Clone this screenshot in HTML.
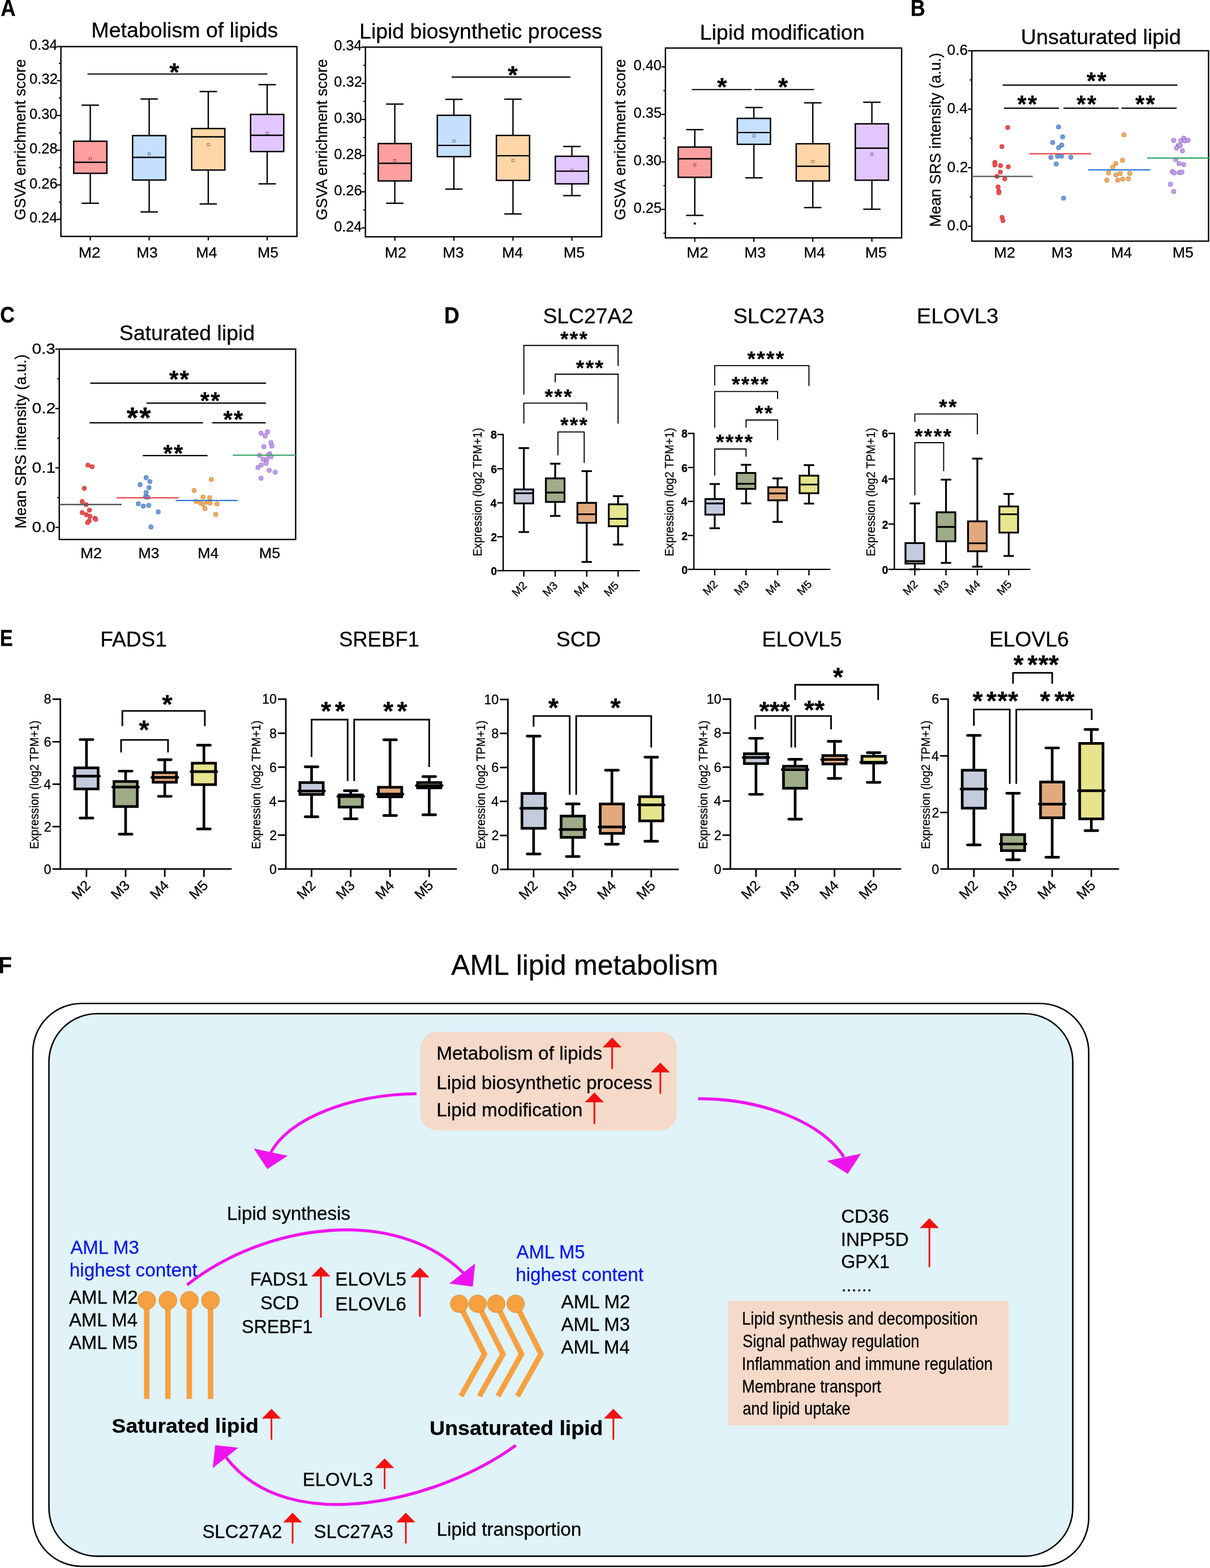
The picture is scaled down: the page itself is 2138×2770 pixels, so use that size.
<!DOCTYPE html>
<html lang="en"><head><meta charset="utf-8"><title>AML lipid metabolism figure</title>
<style>
html,body{margin:0;padding:0;background:#fff}
body{width:2138px;height:2770px;overflow:hidden}
svg{display:block;font-family:"Liberation Sans",sans-serif;fill:#000}
svg text{white-space:pre;stroke:#000;stroke-width:.3px;stroke-linejoin:round}
</style></head><body>
<svg width="2138" height="2770" viewBox="0 0 2138 2770">
<rect width="2138" height="2770" fill="#fff"/>
<g id="fig">
<text x="1.29" y="27.9" font-size="40" font-weight="bold" textLength="26.41" lengthAdjust="spacingAndGlyphs">A</text>
<text x="161.34" y="66.3" font-size="36.5" textLength="330.06" lengthAdjust="spacingAndGlyphs">Metabolism of lipids</text>
<text transform="translate(44.5,388.89) rotate(-90)" font-size="28.5" textLength="284.46" lengthAdjust="spacingAndGlyphs">GSVA enrichment score</text>
<line x1="100.62" y1="82.31" x2="107.62" y2="82.31" stroke="#000" stroke-width="2.2"/>
<text x="52.06" y="88.21" font-size="26.3" textLength="49.31" lengthAdjust="spacingAndGlyphs">0.34</text>
<line x1="100.62" y1="142.53" x2="107.62" y2="142.53" stroke="#000" stroke-width="2.2"/>
<text x="52.05" y="148.43" font-size="26.3" textLength="49.84" lengthAdjust="spacingAndGlyphs">0.32</text>
<line x1="100.62" y1="204.02" x2="107.62" y2="204.02" stroke="#000" stroke-width="2.2"/>
<text x="52.05" y="209.92" font-size="26.3" textLength="49.44" lengthAdjust="spacingAndGlyphs">0.30</text>
<line x1="100.62" y1="265.52" x2="107.62" y2="265.52" stroke="#000" stroke-width="2.2"/>
<text x="52.05" y="271.42" font-size="26.3" textLength="49.57" lengthAdjust="spacingAndGlyphs">0.28</text>
<line x1="100.62" y1="326.69" x2="107.62" y2="326.69" stroke="#000" stroke-width="2.2"/>
<text x="52.05" y="332.59" font-size="26.3" textLength="49.57" lengthAdjust="spacingAndGlyphs">0.26</text>
<line x1="100.62" y1="387.54" x2="107.62" y2="387.54" stroke="#000" stroke-width="2.2"/>
<text x="52.06" y="393.44" font-size="26.3" textLength="49.31" lengthAdjust="spacingAndGlyphs">0.24</text>
<line x1="104.12" y1="112.1" x2="107.62" y2="112.1" stroke="#000" stroke-width="2.2"/>
<line x1="104.12" y1="173.27" x2="107.62" y2="173.27" stroke="#000" stroke-width="2.2"/>
<line x1="104.12" y1="234.77" x2="107.62" y2="234.77" stroke="#000" stroke-width="2.2"/>
<line x1="104.12" y1="296.26" x2="107.62" y2="296.26" stroke="#000" stroke-width="2.2"/>
<line x1="104.12" y1="357.12" x2="107.62" y2="357.12" stroke="#000" stroke-width="2.2"/>
<line x1="159.5" y1="185.77" x2="159.5" y2="359.04" stroke="#000" stroke-width="2.4"/>
<line x1="144.13" y1="185.77" x2="174.88" y2="185.77" stroke="#000" stroke-width="2.4"/>
<line x1="144.13" y1="359.04" x2="174.88" y2="359.04" stroke="#000" stroke-width="2.4"/>
<rect x="130.2" y="249.5" width="58.61" height="56.69" fill="#FF9F9F" stroke="#000" stroke-width="2.45"/>
<line x1="130.2" y1="286.65" x2="188.81" y2="286.65" stroke="#000" stroke-width="2.45"/>
<rect x="157.4" y="278.15" width="4.2" height="4.2" fill="none" stroke="#7a2020" stroke-width="0.7"/>
<line x1="263.59" y1="174.88" x2="263.59" y2="374.41" stroke="#000" stroke-width="2.4"/>
<line x1="248.22" y1="174.88" x2="278.97" y2="174.88" stroke="#000" stroke-width="2.4"/>
<line x1="248.22" y1="374.41" x2="278.97" y2="374.41" stroke="#000" stroke-width="2.4"/>
<rect x="234.29" y="239.57" width="58.61" height="78.47" fill="#C5E0FF" stroke="#000" stroke-width="2.45"/>
<line x1="234.29" y1="278.01" x2="292.9" y2="278.01" stroke="#000" stroke-width="2.45"/>
<rect x="261.49" y="269.82" width="4.2" height="4.2" fill="none" stroke="#1f3f70" stroke-width="0.7"/>
<line x1="368.01" y1="161.74" x2="368.01" y2="360.32" stroke="#000" stroke-width="2.4"/>
<line x1="352.63" y1="161.74" x2="383.38" y2="161.74" stroke="#000" stroke-width="2.4"/>
<line x1="352.63" y1="360.32" x2="383.38" y2="360.32" stroke="#000" stroke-width="2.4"/>
<rect x="338.7" y="227.08" width="58.61" height="73.35" fill="#FFD6A8" stroke="#000" stroke-width="2.45"/>
<line x1="338.7" y1="241.81" x2="397.31" y2="241.81" stroke="#000" stroke-width="2.45"/>
<rect x="365.91" y="253.49" width="4.2" height="4.2" fill="none" stroke="#6a4010" stroke-width="0.7"/>
<line x1="472.1" y1="149.57" x2="472.1" y2="324.77" stroke="#000" stroke-width="2.4"/>
<line x1="456.73" y1="149.57" x2="487.47" y2="149.57" stroke="#000" stroke-width="2.4"/>
<line x1="456.73" y1="324.77" x2="487.47" y2="324.77" stroke="#000" stroke-width="2.4"/>
<rect x="442.79" y="202.1" width="58.61" height="65.66" fill="#E2C6FF" stroke="#000" stroke-width="2.45"/>
<line x1="442.79" y1="238.93" x2="501.41" y2="238.93" stroke="#000" stroke-width="2.45"/>
<rect x="470" y="233.31" width="4.2" height="4.2" fill="none" stroke="#4a2a70" stroke-width="0.7"/>
<line x1="159.5" y1="417.65" x2="159.5" y2="424.65" stroke="#000" stroke-width="2.2"/>
<line x1="263.59" y1="417.65" x2="263.59" y2="424.65" stroke="#000" stroke-width="2.2"/>
<line x1="368.01" y1="417.65" x2="368.01" y2="424.65" stroke="#000" stroke-width="2.2"/>
<line x1="472.1" y1="417.65" x2="472.1" y2="424.65" stroke="#000" stroke-width="2.2"/>
<rect x="107.62" y="82.31" width="417.01" height="335.34" fill="none" stroke="#000" stroke-width="2.4"/>
<line x1="154.7" y1="130.68" x2="472.74" y2="130.68" stroke="#000" stroke-width="2.1"/>
<text x="299.34" y="142.83" font-size="45" font-weight="bold">*</text>
<text x="138.73" y="454.8" font-size="26" textLength="38.8" lengthAdjust="spacingAndGlyphs">M2</text>
<text x="241.3" y="454.8" font-size="26" textLength="37.44" lengthAdjust="spacingAndGlyphs">M3</text>
<text x="346.37" y="454.8" font-size="26" textLength="37.15" lengthAdjust="spacingAndGlyphs">M4</text>
<text x="454.95" y="454.8" font-size="26" textLength="37.09" lengthAdjust="spacingAndGlyphs">M5</text>
<text x="635.05" y="68.22" font-size="36.5" textLength="428.99" lengthAdjust="spacingAndGlyphs">Lipid biosynthetic process</text>
<text transform="translate(578.1,388.89) rotate(-90)" font-size="28.5" textLength="284.46" lengthAdjust="spacingAndGlyphs">GSVA enrichment score</text>
<line x1="638.69" y1="83.27" x2="645.69" y2="83.27" stroke="#000" stroke-width="2.2"/>
<text x="590.13" y="89.17" font-size="26.3" textLength="49.31" lengthAdjust="spacingAndGlyphs">0.34</text>
<line x1="638.69" y1="147.33" x2="645.69" y2="147.33" stroke="#000" stroke-width="2.2"/>
<text x="590.12" y="153.23" font-size="26.3" textLength="49.84" lengthAdjust="spacingAndGlyphs">0.32</text>
<line x1="638.69" y1="211.07" x2="645.69" y2="211.07" stroke="#000" stroke-width="2.2"/>
<text x="590.13" y="216.97" font-size="26.3" textLength="49.44" lengthAdjust="spacingAndGlyphs">0.30</text>
<line x1="638.69" y1="274.8" x2="645.69" y2="274.8" stroke="#000" stroke-width="2.2"/>
<text x="590.13" y="280.7" font-size="26.3" textLength="49.57" lengthAdjust="spacingAndGlyphs">0.28</text>
<line x1="638.69" y1="338.86" x2="645.69" y2="338.86" stroke="#000" stroke-width="2.2"/>
<text x="590.13" y="344.76" font-size="26.3" textLength="49.57" lengthAdjust="spacingAndGlyphs">0.26</text>
<line x1="638.69" y1="402.6" x2="645.69" y2="402.6" stroke="#000" stroke-width="2.2"/>
<text x="590.13" y="408.5" font-size="26.3" textLength="49.31" lengthAdjust="spacingAndGlyphs">0.24</text>
<line x1="642.19" y1="115.3" x2="645.69" y2="115.3" stroke="#000" stroke-width="2.2"/>
<line x1="642.19" y1="179.04" x2="645.69" y2="179.04" stroke="#000" stroke-width="2.2"/>
<line x1="642.19" y1="243.1" x2="645.69" y2="243.1" stroke="#000" stroke-width="2.2"/>
<line x1="642.19" y1="306.83" x2="645.69" y2="306.83" stroke="#000" stroke-width="2.2"/>
<line x1="642.19" y1="370.89" x2="645.69" y2="370.89" stroke="#000" stroke-width="2.2"/>
<line x1="697.58" y1="183.84" x2="697.58" y2="359.04" stroke="#000" stroke-width="2.4"/>
<line x1="682.21" y1="183.84" x2="712.95" y2="183.84" stroke="#000" stroke-width="2.4"/>
<line x1="682.21" y1="359.04" x2="712.95" y2="359.04" stroke="#000" stroke-width="2.4"/>
<rect x="668.27" y="253.67" width="58.61" height="65.98" fill="#FF9F9F" stroke="#000" stroke-width="2.45"/>
<line x1="668.27" y1="288.58" x2="726.89" y2="288.58" stroke="#000" stroke-width="2.45"/>
<rect x="695.48" y="281.35" width="4.2" height="4.2" fill="none" stroke="#7a2020" stroke-width="0.7"/>
<line x1="801.99" y1="175.52" x2="801.99" y2="334.06" stroke="#000" stroke-width="2.4"/>
<line x1="786.62" y1="175.52" x2="817.37" y2="175.52" stroke="#000" stroke-width="2.4"/>
<line x1="786.62" y1="334.06" x2="817.37" y2="334.06" stroke="#000" stroke-width="2.4"/>
<rect x="772.69" y="203.7" width="58.61" height="73.02" fill="#C5E0FF" stroke="#000" stroke-width="2.45"/>
<line x1="772.69" y1="256.87" x2="831.3" y2="256.87" stroke="#000" stroke-width="2.45"/>
<rect x="799.89" y="247.08" width="4.2" height="4.2" fill="none" stroke="#1f3f70" stroke-width="0.7"/>
<line x1="906.41" y1="175.2" x2="906.41" y2="377.94" stroke="#000" stroke-width="2.4"/>
<line x1="891.03" y1="175.2" x2="921.78" y2="175.2" stroke="#000" stroke-width="2.4"/>
<line x1="891.03" y1="377.94" x2="921.78" y2="377.94" stroke="#000" stroke-width="2.4"/>
<rect x="877.1" y="239.25" width="58.61" height="79.43" fill="#FFD6A8" stroke="#000" stroke-width="2.45"/>
<line x1="877.1" y1="275.12" x2="935.71" y2="275.12" stroke="#000" stroke-width="2.45"/>
<rect x="904.31" y="281.35" width="4.2" height="4.2" fill="none" stroke="#6a4010" stroke-width="0.7"/>
<line x1="1010.5" y1="258.79" x2="1010.5" y2="345.59" stroke="#000" stroke-width="2.4"/>
<line x1="995.12" y1="258.79" x2="1025.87" y2="258.79" stroke="#000" stroke-width="2.4"/>
<line x1="995.12" y1="345.59" x2="1025.87" y2="345.59" stroke="#000" stroke-width="2.4"/>
<rect x="981.19" y="276.09" width="58.61" height="48.68" fill="#E2C6FF" stroke="#000" stroke-width="2.45"/>
<line x1="981.19" y1="302.35" x2="1039.8" y2="302.35" stroke="#000" stroke-width="2.45"/>
<rect x="1008.4" y="298.97" width="4.2" height="4.2" fill="none" stroke="#4a2a70" stroke-width="0.7"/>
<line x1="697.58" y1="418.29" x2="697.58" y2="425.29" stroke="#000" stroke-width="2.2"/>
<line x1="801.99" y1="418.29" x2="801.99" y2="425.29" stroke="#000" stroke-width="2.2"/>
<line x1="906.41" y1="418.29" x2="906.41" y2="425.29" stroke="#000" stroke-width="2.2"/>
<line x1="1010.5" y1="418.29" x2="1010.5" y2="425.29" stroke="#000" stroke-width="2.2"/>
<rect x="645.69" y="83.27" width="417.33" height="335.02" fill="none" stroke="#000" stroke-width="2.4"/>
<line x1="798.15" y1="136.12" x2="1007.94" y2="136.12" stroke="#000" stroke-width="2.1"/>
<text x="897.31" y="148.28" font-size="45" font-weight="bold">*</text>
<text x="679.71" y="454.8" font-size="26" textLength="38.45" lengthAdjust="spacingAndGlyphs">M2</text>
<text x="782.26" y="454.8" font-size="26" textLength="37.44" lengthAdjust="spacingAndGlyphs">M3</text>
<text x="887.01" y="454.8" font-size="26" textLength="37.15" lengthAdjust="spacingAndGlyphs">M4</text>
<text x="995.89" y="454.8" font-size="26" textLength="37.44" lengthAdjust="spacingAndGlyphs">M5</text>
<text x="1236.53" y="69.5" font-size="36.5" textLength="291.18" lengthAdjust="spacingAndGlyphs">Lipid modification</text>
<text transform="translate(1105.28,388.89) rotate(-90)" font-size="28.5" textLength="284.46" lengthAdjust="spacingAndGlyphs">GSVA enrichment score</text>
<line x1="1168.77" y1="118.19" x2="1175.77" y2="118.19" stroke="#000" stroke-width="2.2"/>
<text x="1119.56" y="124.09" font-size="26.3" textLength="49.44" lengthAdjust="spacingAndGlyphs">0.40</text>
<line x1="1168.77" y1="202.1" x2="1175.77" y2="202.1" stroke="#000" stroke-width="2.2"/>
<text x="1119.56" y="208" font-size="26.3" textLength="49.57" lengthAdjust="spacingAndGlyphs">0.35</text>
<line x1="1168.77" y1="286.01" x2="1175.77" y2="286.01" stroke="#000" stroke-width="2.2"/>
<text x="1119.56" y="291.91" font-size="26.3" textLength="49.44" lengthAdjust="spacingAndGlyphs">0.30</text>
<line x1="1168.77" y1="369.93" x2="1175.77" y2="369.93" stroke="#000" stroke-width="2.2"/>
<text x="1119.56" y="375.83" font-size="26.3" textLength="49.57" lengthAdjust="spacingAndGlyphs">0.25</text>
<line x1="1172.27" y1="160.14" x2="1175.77" y2="160.14" stroke="#000" stroke-width="2.2"/>
<line x1="1172.27" y1="244.06" x2="1175.77" y2="244.06" stroke="#000" stroke-width="2.2"/>
<line x1="1172.27" y1="327.97" x2="1175.77" y2="327.97" stroke="#000" stroke-width="2.2"/>
<line x1="1172.27" y1="411.89" x2="1175.77" y2="411.89" stroke="#000" stroke-width="2.2"/>
<line x1="1227.65" y1="229" x2="1227.65" y2="380.5" stroke="#000" stroke-width="2.4"/>
<line x1="1212.28" y1="229" x2="1243.02" y2="229" stroke="#000" stroke-width="2.4"/>
<line x1="1212.28" y1="380.5" x2="1243.02" y2="380.5" stroke="#000" stroke-width="2.4"/>
<rect x="1198.35" y="259.75" width="58.61" height="53.49" fill="#FF9F9F" stroke="#000" stroke-width="2.45"/>
<line x1="1198.35" y1="280.57" x2="1256.96" y2="280.57" stroke="#000" stroke-width="2.45"/>
<rect x="1225.55" y="289.36" width="4.2" height="4.2" fill="none" stroke="#7a2020" stroke-width="0.7"/>
<line x1="1332.06" y1="189.93" x2="1332.06" y2="314.2" stroke="#000" stroke-width="2.4"/>
<line x1="1316.69" y1="189.93" x2="1347.44" y2="189.93" stroke="#000" stroke-width="2.4"/>
<line x1="1316.69" y1="314.2" x2="1347.44" y2="314.2" stroke="#000" stroke-width="2.4"/>
<rect x="1302.76" y="209.15" width="58.61" height="45.8" fill="#C5E0FF" stroke="#000" stroke-width="2.45"/>
<line x1="1302.76" y1="234.13" x2="1361.37" y2="234.13" stroke="#000" stroke-width="2.45"/>
<rect x="1329.96" y="237.79" width="4.2" height="4.2" fill="none" stroke="#1f3f70" stroke-width="0.7"/>
<line x1="1436.16" y1="181.6" x2="1436.16" y2="366.73" stroke="#000" stroke-width="2.4"/>
<line x1="1420.78" y1="181.6" x2="1451.53" y2="181.6" stroke="#000" stroke-width="2.4"/>
<line x1="1420.78" y1="366.73" x2="1451.53" y2="366.73" stroke="#000" stroke-width="2.4"/>
<rect x="1406.85" y="253.99" width="58.61" height="65.66" fill="#FFD6A8" stroke="#000" stroke-width="2.45"/>
<line x1="1406.85" y1="293.7" x2="1465.46" y2="293.7" stroke="#000" stroke-width="2.45"/>
<rect x="1434.06" y="283.27" width="4.2" height="4.2" fill="none" stroke="#6a4010" stroke-width="0.7"/>
<line x1="1540.57" y1="180.64" x2="1540.57" y2="369.61" stroke="#000" stroke-width="2.4"/>
<line x1="1525.2" y1="180.64" x2="1555.94" y2="180.64" stroke="#000" stroke-width="2.4"/>
<line x1="1525.2" y1="369.61" x2="1555.94" y2="369.61" stroke="#000" stroke-width="2.4"/>
<rect x="1511.26" y="218.75" width="58.61" height="99.61" fill="#E2C6FF" stroke="#000" stroke-width="2.45"/>
<line x1="1511.26" y1="261.67" x2="1569.88" y2="261.67" stroke="#000" stroke-width="2.45"/>
<rect x="1538.47" y="270.46" width="4.2" height="4.2" fill="none" stroke="#4a2a70" stroke-width="0.7"/>
<path d="M1227.65,392.31L1230.25,394.91L1227.65,397.51L1225.05,394.91Z" stroke="none" stroke-width="0" fill="#000"/>
<line x1="1227.65" y1="420.21" x2="1227.65" y2="427.21" stroke="#000" stroke-width="2.2"/>
<line x1="1332.06" y1="420.21" x2="1332.06" y2="427.21" stroke="#000" stroke-width="2.2"/>
<line x1="1436.16" y1="420.21" x2="1436.16" y2="427.21" stroke="#000" stroke-width="2.2"/>
<line x1="1540.57" y1="420.21" x2="1540.57" y2="427.21" stroke="#000" stroke-width="2.2"/>
<rect x="1175.77" y="84.88" width="417.33" height="335.34" fill="none" stroke="#000" stroke-width="2.4"/>
<line x1="1222.21" y1="158.22" x2="1328.22" y2="158.22" stroke="#000" stroke-width="2.1"/>
<text x="1266.92" y="169.42" font-size="45" font-weight="bold">*</text>
<line x1="1333.02" y1="158.22" x2="1438.4" y2="158.22" stroke="#000" stroke-width="2.1"/>
<text x="1374.85" y="169.42" font-size="45" font-weight="bold">*</text>
<text x="1213.31" y="454.8" font-size="26" textLength="38.45" lengthAdjust="spacingAndGlyphs">M2</text>
<text x="1315.17" y="454.8" font-size="26" textLength="38.14" lengthAdjust="spacingAndGlyphs">M3</text>
<text x="1420.24" y="454.8" font-size="26" textLength="37.85" lengthAdjust="spacingAndGlyphs">M4</text>
<text x="1528.8" y="454.8" font-size="26" textLength="38.14" lengthAdjust="spacingAndGlyphs">M5</text>
<text x="1608.82" y="28.19" font-size="40" font-weight="bold" textLength="26.12" lengthAdjust="spacingAndGlyphs">B</text>
<text x="1803.72" y="77.83" font-size="36.5" textLength="282.9" lengthAdjust="spacingAndGlyphs">Unsaturated lipid</text>
<text transform="translate(1662.06,400.91) rotate(-90)" font-size="27">Mean SRS intensity (a.u.)</text>
<line x1="1710.15" y1="89.68" x2="1717.15" y2="89.68" stroke="#000" stroke-width="2.2"/>
<text x="1673.59" y="97.18" font-size="26.3">0.6</text>
<line x1="1710.15" y1="192.81" x2="1717.15" y2="192.81" stroke="#000" stroke-width="2.2"/>
<text x="1673.59" y="200.31" font-size="26.3" textLength="36.33" lengthAdjust="spacingAndGlyphs">0.4</text>
<line x1="1710.15" y1="296.26" x2="1717.15" y2="296.26" stroke="#000" stroke-width="2.2"/>
<text x="1673.58" y="303.76" font-size="26.3" textLength="36.89" lengthAdjust="spacingAndGlyphs">0.2</text>
<line x1="1710.15" y1="399.72" x2="1717.15" y2="399.72" stroke="#000" stroke-width="2.2"/>
<text x="1673.59" y="407.22" font-size="26.3">0.0</text>
<line x1="1713.65" y1="141.25" x2="1717.15" y2="141.25" stroke="#000" stroke-width="2.2"/>
<line x1="1713.65" y1="244.38" x2="1717.15" y2="244.38" stroke="#000" stroke-width="2.2"/>
<line x1="1713.65" y1="347.83" x2="1717.15" y2="347.83" stroke="#000" stroke-width="2.2"/>
<rect x="1717.15" y="89.68" width="418.29" height="336.3" fill="none" stroke="#000" stroke-width="2.4"/>
<circle cx="1780.56" cy="225.16" r="4" fill="#F0504E" stroke="#8a1c1c" stroke-width="0.5"/>
<circle cx="1770.31" cy="259.11" r="4" fill="#F0504E" stroke="#8a1c1c" stroke-width="0.5"/>
<circle cx="1757.82" cy="286.65" r="4" fill="#F0504E" stroke="#8a1c1c" stroke-width="0.5"/>
<circle cx="1757.82" cy="291.46" r="4" fill="#F0504E" stroke="#8a1c1c" stroke-width="0.5"/>
<circle cx="1767.75" cy="292.42" r="4" fill="#F0504E" stroke="#8a1c1c" stroke-width="0.5"/>
<circle cx="1781.52" cy="294.66" r="4" fill="#F0504E" stroke="#8a1c1c" stroke-width="0.5"/>
<circle cx="1767.43" cy="303.95" r="4" fill="#F0504E" stroke="#8a1c1c" stroke-width="0.5"/>
<circle cx="1761.67" cy="311.64" r="4" fill="#F0504E" stroke="#8a1c1c" stroke-width="0.5"/>
<circle cx="1775.44" cy="316.12" r="4" fill="#F0504E" stroke="#8a1c1c" stroke-width="0.5"/>
<circle cx="1763.59" cy="330.21" r="4" fill="#F0504E" stroke="#8a1c1c" stroke-width="0.5"/>
<circle cx="1764.87" cy="337.9" r="4" fill="#F0504E" stroke="#8a1c1c" stroke-width="0.5"/>
<circle cx="1764.87" cy="340.46" r="4" fill="#F0504E" stroke="#8a1c1c" stroke-width="0.5"/>
<circle cx="1770.63" cy="384.02" r="4" fill="#F0504E" stroke="#8a1c1c" stroke-width="0.5"/>
<circle cx="1772.23" cy="389.79" r="4" fill="#F0504E" stroke="#8a1c1c" stroke-width="0.5"/>
<circle cx="1870.24" cy="224.2" r="4" fill="#6C9FE0" stroke="#1f3f75" stroke-width="0.5"/>
<circle cx="1877.61" cy="241.81" r="4" fill="#6C9FE0" stroke="#1f3f75" stroke-width="0.5"/>
<circle cx="1859.99" cy="251.74" r="4" fill="#6C9FE0" stroke="#1f3f75" stroke-width="0.5"/>
<circle cx="1876.01" cy="256.23" r="4" fill="#6C9FE0" stroke="#1f3f75" stroke-width="0.5"/>
<circle cx="1870.56" cy="260.71" r="4" fill="#6C9FE0" stroke="#1f3f75" stroke-width="0.5"/>
<circle cx="1856.79" cy="278.01" r="4" fill="#6C9FE0" stroke="#1f3f75" stroke-width="0.5"/>
<circle cx="1868.64" cy="276.09" r="4" fill="#6C9FE0" stroke="#1f3f75" stroke-width="0.5"/>
<circle cx="1875.69" cy="276.09" r="4" fill="#6C9FE0" stroke="#1f3f75" stroke-width="0.5"/>
<circle cx="1892.02" cy="277.69" r="4" fill="#6C9FE0" stroke="#1f3f75" stroke-width="0.5"/>
<circle cx="1866.4" cy="289.86" r="4" fill="#6C9FE0" stroke="#1f3f75" stroke-width="0.5"/>
<circle cx="1879.21" cy="350.07" r="4" fill="#6C9FE0" stroke="#1f3f75" stroke-width="0.5"/>
<circle cx="1985.86" cy="238.29" r="4" fill="#F8AE5E" stroke="#8a5a1c" stroke-width="0.5"/>
<circle cx="1983.3" cy="283.13" r="4" fill="#F8AE5E" stroke="#8a5a1c" stroke-width="0.5"/>
<circle cx="1971.45" cy="288.9" r="4" fill="#F8AE5E" stroke="#8a5a1c" stroke-width="0.5"/>
<circle cx="1966.33" cy="295.3" r="4" fill="#F8AE5E" stroke="#8a5a1c" stroke-width="0.5"/>
<circle cx="1958.64" cy="305.55" r="4" fill="#F8AE5E" stroke="#8a5a1c" stroke-width="0.5"/>
<circle cx="1971.77" cy="309.07" r="4" fill="#F8AE5E" stroke="#8a5a1c" stroke-width="0.5"/>
<circle cx="1979.46" cy="306.51" r="4" fill="#F8AE5E" stroke="#8a5a1c" stroke-width="0.5"/>
<circle cx="1996.11" cy="306.19" r="4" fill="#F8AE5E" stroke="#8a5a1c" stroke-width="0.5"/>
<circle cx="1955.76" cy="318.36" r="4" fill="#F8AE5E" stroke="#8a5a1c" stroke-width="0.5"/>
<circle cx="1974.98" cy="318.36" r="4" fill="#F8AE5E" stroke="#8a5a1c" stroke-width="0.5"/>
<circle cx="1983.62" cy="316.44" r="4" fill="#F8AE5E" stroke="#8a5a1c" stroke-width="0.5"/>
<circle cx="1993.87" cy="315.8" r="4" fill="#F8AE5E" stroke="#8a5a1c" stroke-width="0.5"/>
<circle cx="2073.94" cy="247.9" r="4" fill="#C79CF0" stroke="#5a3a8a" stroke-width="0.5"/>
<circle cx="2091.56" cy="244.06" r="4" fill="#C79CF0" stroke="#5a3a8a" stroke-width="0.5"/>
<circle cx="2086.43" cy="248.86" r="4" fill="#C79CF0" stroke="#5a3a8a" stroke-width="0.5"/>
<circle cx="2093.48" cy="248.86" r="4" fill="#C79CF0" stroke="#5a3a8a" stroke-width="0.5"/>
<circle cx="2099.25" cy="247.9" r="4" fill="#C79CF0" stroke="#5a3a8a" stroke-width="0.5"/>
<circle cx="2081.63" cy="257.19" r="4" fill="#C79CF0" stroke="#5a3a8a" stroke-width="0.5"/>
<circle cx="2085.15" cy="257.19" r="4" fill="#C79CF0" stroke="#5a3a8a" stroke-width="0.5"/>
<circle cx="2078.75" cy="261.67" r="4" fill="#C79CF0" stroke="#5a3a8a" stroke-width="0.5"/>
<circle cx="2089.32" cy="266.48" r="4" fill="#C79CF0" stroke="#5a3a8a" stroke-width="0.5"/>
<circle cx="2077.47" cy="281.85" r="4" fill="#C79CF0" stroke="#5a3a8a" stroke-width="0.5"/>
<circle cx="2083.23" cy="288.9" r="4" fill="#C79CF0" stroke="#5a3a8a" stroke-width="0.5"/>
<circle cx="2091.56" cy="290.82" r="4" fill="#C79CF0" stroke="#5a3a8a" stroke-width="0.5"/>
<circle cx="2071.38" cy="302.99" r="4" fill="#C79CF0" stroke="#5a3a8a" stroke-width="0.5"/>
<circle cx="2074.58" cy="305.55" r="4" fill="#C79CF0" stroke="#5a3a8a" stroke-width="0.5"/>
<circle cx="2083.55" cy="304.91" r="4" fill="#C79CF0" stroke="#5a3a8a" stroke-width="0.5"/>
<circle cx="2088.36" cy="304.27" r="4" fill="#C79CF0" stroke="#5a3a8a" stroke-width="0.5"/>
<circle cx="2068.18" cy="325.41" r="4" fill="#C79CF0" stroke="#5a3a8a" stroke-width="0.5"/>
<circle cx="2073.94" cy="338.22" r="4" fill="#C79CF0" stroke="#5a3a8a" stroke-width="0.5"/>
<line x1="1717.15" y1="311.64" x2="1824.76" y2="311.64" stroke="#555555" stroke-width="2.4"/>
<line x1="1818.36" y1="271.6" x2="1927.89" y2="271.6" stroke="#E2414B" stroke-width="2.4"/>
<line x1="1922.77" y1="300.11" x2="2032.63" y2="300.11" stroke="#2B78D8" stroke-width="2.4"/>
<line x1="2027.18" y1="279.29" x2="2138" y2="279.29" stroke="#3DAA6E" stroke-width="2.4"/>
<line x1="1771.59" y1="150.39" x2="2080.35" y2="150.39" stroke="#000" stroke-width="2.3"/>
<text x="1920.06 1938.56" y="157.43" font-size="42" font-weight="bold">**</text>
<line x1="1773.84" y1="191.07" x2="1871.2" y2="191.07" stroke="#000" stroke-width="2.3"/>
<text x="1797.39 1815.89" y="198.11" font-size="42" font-weight="bold">**</text>
<line x1="1879.21" y1="191.07" x2="1976.58" y2="191.07" stroke="#000" stroke-width="2.3"/>
<text x="1902.13 1920.63" y="198.11" font-size="42" font-weight="bold">**</text>
<line x1="1981.7" y1="191.07" x2="2079.07" y2="191.07" stroke="#000" stroke-width="2.3"/>
<text x="2005.9 2024.4" y="198.11" font-size="42" font-weight="bold">**</text>
<text x="1755.99" y="455.44" font-size="26" textLength="38.09" lengthAdjust="spacingAndGlyphs">M2</text>
<text x="1857.88" y="455.44" font-size="26" textLength="37.44" lengthAdjust="spacingAndGlyphs">M3</text>
<text x="1962.95" y="455.44" font-size="26" textLength="37.15" lengthAdjust="spacingAndGlyphs">M4</text>
<text x="2071.85" y="455.44" font-size="26" textLength="37.09" lengthAdjust="spacingAndGlyphs">M5</text>
<text x="0.22" y="570.28" font-size="40" font-weight="bold" textLength="25.74" lengthAdjust="spacingAndGlyphs">C</text>
<text x="210.7" y="600.71" font-size="36.5" textLength="239.61" lengthAdjust="spacingAndGlyphs">Saturated lipid</text>
<text transform="translate(45.8,933.72) rotate(-90)" font-size="27">Mean SRS intensity (a.u.)</text>
<line x1="97.73" y1="616.73" x2="104.73" y2="616.73" stroke="#000" stroke-width="2.2"/>
<text x="56.54" y="625.43" font-size="26.3" textLength="41.39" lengthAdjust="spacingAndGlyphs">0.3</text>
<line x1="97.73" y1="721.78" x2="104.73" y2="721.78" stroke="#000" stroke-width="2.2"/>
<text x="56.53" y="730.48" font-size="26.3" textLength="41.7" lengthAdjust="spacingAndGlyphs">0.2</text>
<line x1="97.73" y1="826.51" x2="104.73" y2="826.51" stroke="#000" stroke-width="2.2"/>
<text x="56.53" y="835.21" font-size="26.3" textLength="41.54" lengthAdjust="spacingAndGlyphs">0.1</text>
<line x1="97.73" y1="931.57" x2="104.73" y2="931.57" stroke="#000" stroke-width="2.2"/>
<text x="56.54" y="940.27" font-size="26.3" textLength="41.23" lengthAdjust="spacingAndGlyphs">0.0</text>
<line x1="101.23" y1="669.25" x2="104.73" y2="669.25" stroke="#000" stroke-width="2.2"/>
<line x1="101.23" y1="774.31" x2="104.73" y2="774.31" stroke="#000" stroke-width="2.2"/>
<line x1="101.23" y1="879.04" x2="104.73" y2="879.04" stroke="#000" stroke-width="2.2"/>
<rect x="104.73" y="616.73" width="417.65" height="336.3" fill="none" stroke="#000" stroke-width="2.4"/>
<circle cx="155.34" cy="821.71" r="4" fill="#F0504E" stroke="#8a1c1c" stroke-width="0.5"/>
<circle cx="162.7" cy="824.59" r="4" fill="#F0504E" stroke="#8a1c1c" stroke-width="0.5"/>
<circle cx="148.93" cy="862.7" r="4" fill="#F0504E" stroke="#8a1c1c" stroke-width="0.5"/>
<circle cx="145.09" cy="886.09" r="4" fill="#F0504E" stroke="#8a1c1c" stroke-width="0.5"/>
<circle cx="152.14" cy="891.53" r="4" fill="#F0504E" stroke="#8a1c1c" stroke-width="0.5"/>
<circle cx="157.9" cy="901.14" r="4" fill="#F0504E" stroke="#8a1c1c" stroke-width="0.5"/>
<circle cx="145.09" cy="905.62" r="4" fill="#F0504E" stroke="#8a1c1c" stroke-width="0.5"/>
<circle cx="152.46" cy="909.15" r="4" fill="#F0504E" stroke="#8a1c1c" stroke-width="0.5"/>
<circle cx="159.18" cy="912.35" r="4" fill="#F0504E" stroke="#8a1c1c" stroke-width="0.5"/>
<circle cx="167.83" cy="915.87" r="4" fill="#F0504E" stroke="#8a1c1c" stroke-width="0.5"/>
<circle cx="169.11" cy="917.47" r="4" fill="#F0504E" stroke="#8a1c1c" stroke-width="0.5"/>
<circle cx="157.58" cy="920.36" r="4" fill="#F0504E" stroke="#8a1c1c" stroke-width="0.5"/>
<circle cx="154.7" cy="923.24" r="4" fill="#F0504E" stroke="#8a1c1c" stroke-width="0.5"/>
<circle cx="258.15" cy="843.81" r="4" fill="#6C9FE0" stroke="#1f3f75" stroke-width="0.5"/>
<circle cx="264.88" cy="850.85" r="4" fill="#6C9FE0" stroke="#1f3f75" stroke-width="0.5"/>
<circle cx="247.58" cy="856.3" r="4" fill="#6C9FE0" stroke="#1f3f75" stroke-width="0.5"/>
<circle cx="263.27" cy="861.42" r="4" fill="#6C9FE0" stroke="#1f3f75" stroke-width="0.5"/>
<circle cx="258.15" cy="870.07" r="4" fill="#6C9FE0" stroke="#1f3f75" stroke-width="0.5"/>
<circle cx="257.19" cy="877.76" r="4" fill="#6C9FE0" stroke="#1f3f75" stroke-width="0.5"/>
<circle cx="261.03" cy="878.4" r="4" fill="#6C9FE0" stroke="#1f3f75" stroke-width="0.5"/>
<circle cx="244.38" cy="889.93" r="4" fill="#6C9FE0" stroke="#1f3f75" stroke-width="0.5"/>
<circle cx="253.35" cy="894.09" r="4" fill="#6C9FE0" stroke="#1f3f75" stroke-width="0.5"/>
<circle cx="262.95" cy="892.81" r="4" fill="#6C9FE0" stroke="#1f3f75" stroke-width="0.5"/>
<circle cx="279.61" cy="904.34" r="4" fill="#6C9FE0" stroke="#1f3f75" stroke-width="0.5"/>
<circle cx="266.8" cy="930.93" r="4" fill="#6C9FE0" stroke="#1f3f75" stroke-width="0.5"/>
<circle cx="373.45" cy="847.01" r="4" fill="#F8AE5E" stroke="#8a5a1c" stroke-width="0.5"/>
<circle cx="343.02" cy="866.55" r="4" fill="#F8AE5E" stroke="#8a5a1c" stroke-width="0.5"/>
<circle cx="358.72" cy="878.08" r="4" fill="#F8AE5E" stroke="#8a5a1c" stroke-width="0.5"/>
<circle cx="370.57" cy="879.36" r="4" fill="#F8AE5E" stroke="#8a5a1c" stroke-width="0.5"/>
<circle cx="346.23" cy="885.77" r="4" fill="#F8AE5E" stroke="#8a5a1c" stroke-width="0.5"/>
<circle cx="354.23" cy="888.33" r="4" fill="#F8AE5E" stroke="#8a5a1c" stroke-width="0.5"/>
<circle cx="358.72" cy="890.89" r="4" fill="#F8AE5E" stroke="#8a5a1c" stroke-width="0.5"/>
<circle cx="366.09" cy="887.05" r="4" fill="#F8AE5E" stroke="#8a5a1c" stroke-width="0.5"/>
<circle cx="371.21" cy="888.65" r="4" fill="#F8AE5E" stroke="#8a5a1c" stroke-width="0.5"/>
<circle cx="383.38" cy="890.25" r="4" fill="#F8AE5E" stroke="#8a5a1c" stroke-width="0.5"/>
<circle cx="362.24" cy="898.58" r="4" fill="#F8AE5E" stroke="#8a5a1c" stroke-width="0.5"/>
<circle cx="381.14" cy="908.83" r="4" fill="#F8AE5E" stroke="#8a5a1c" stroke-width="0.5"/>
<circle cx="461.21" cy="765.34" r="4" fill="#C79CF0" stroke="#5a3a8a" stroke-width="0.5"/>
<circle cx="472.74" cy="763.1" r="4" fill="#C79CF0" stroke="#5a3a8a" stroke-width="0.5"/>
<circle cx="468.58" cy="770.14" r="4" fill="#C79CF0" stroke="#5a3a8a" stroke-width="0.5"/>
<circle cx="478.83" cy="781.99" r="4" fill="#C79CF0" stroke="#5a3a8a" stroke-width="0.5"/>
<circle cx="466.33" cy="789.04" r="4" fill="#C79CF0" stroke="#5a3a8a" stroke-width="0.5"/>
<circle cx="480.43" cy="788.08" r="4" fill="#C79CF0" stroke="#5a3a8a" stroke-width="0.5"/>
<circle cx="476.58" cy="801.85" r="4" fill="#C79CF0" stroke="#5a3a8a" stroke-width="0.5"/>
<circle cx="458.65" cy="804.41" r="4" fill="#C79CF0" stroke="#5a3a8a" stroke-width="0.5"/>
<circle cx="474.34" cy="803.77" r="4" fill="#C79CF0" stroke="#5a3a8a" stroke-width="0.5"/>
<circle cx="479.15" cy="806.65" r="4" fill="#C79CF0" stroke="#5a3a8a" stroke-width="0.5"/>
<circle cx="465.05" cy="811.46" r="4" fill="#C79CF0" stroke="#5a3a8a" stroke-width="0.5"/>
<circle cx="471.46" cy="812.1" r="4" fill="#C79CF0" stroke="#5a3a8a" stroke-width="0.5"/>
<circle cx="470.18" cy="818.51" r="4" fill="#C79CF0" stroke="#5a3a8a" stroke-width="0.5"/>
<circle cx="461.53" cy="821.39" r="4" fill="#C79CF0" stroke="#5a3a8a" stroke-width="0.5"/>
<circle cx="455.77" cy="825.87" r="4" fill="#C79CF0" stroke="#5a3a8a" stroke-width="0.5"/>
<circle cx="475.62" cy="831" r="4" fill="#C79CF0" stroke="#5a3a8a" stroke-width="0.5"/>
<circle cx="486.19" cy="834.2" r="4" fill="#C79CF0" stroke="#5a3a8a" stroke-width="0.5"/>
<circle cx="461.21" cy="844.77" r="4" fill="#C79CF0" stroke="#5a3a8a" stroke-width="0.5"/>
<line x1="104.73" y1="891.21" x2="214.91" y2="891.21" stroke="#555555" stroke-width="2.4"/>
<line x1="205.94" y1="879.36" x2="316.12" y2="879.36" stroke="#E2414B" stroke-width="2.4"/>
<line x1="310.36" y1="884.16" x2="419.89" y2="884.16" stroke="#2B78D8" stroke-width="2.4"/>
<line x1="411.25" y1="804.09" x2="522.38" y2="804.09" stroke="#3DAA6E" stroke-width="2.4"/>
<line x1="159.5" y1="676.8" x2="470.18" y2="676.8" stroke="#000" stroke-width="2.3"/>
<text x="299 317.5" y="683.84" font-size="42" font-weight="bold">**</text>
<line x1="258.79" y1="712.03" x2="469.86" y2="712.03" stroke="#000" stroke-width="2.3"/>
<text x="353.77 372.27" y="722.27" font-size="42" font-weight="bold">**</text>
<line x1="158.22" y1="746.94" x2="358.72" y2="746.94" stroke="#000" stroke-width="2.3"/>
<text x="223.63 246.13" y="756.15" font-size="52" font-weight="bold">**</text>
<line x1="375.05" y1="746.94" x2="469.54" y2="746.94" stroke="#000" stroke-width="2.3"/>
<text x="394.45 412.95" y="754.94" font-size="42" font-weight="bold">**</text>
<line x1="252.38" y1="804.91" x2="366.73" y2="804.91" stroke="#000" stroke-width="2.3"/>
<text x="288.43 306.93" y="815.15" font-size="42" font-weight="bold">**</text>
<text x="141.97" y="986.01" font-size="26" textLength="38.09" lengthAdjust="spacingAndGlyphs">M2</text>
<text x="244.18" y="986.01" font-size="26" textLength="37.44" lengthAdjust="spacingAndGlyphs">M3</text>
<text x="349.25" y="986.01" font-size="26" textLength="37.15" lengthAdjust="spacingAndGlyphs">M4</text>
<text x="457.81" y="986.01" font-size="26" textLength="37.44" lengthAdjust="spacingAndGlyphs">M5</text>
<text x="784.83" y="571.25" font-size="40" font-weight="bold" textLength="27.03" lengthAdjust="spacingAndGlyphs">D</text>
<text x="959.5" y="571.25" font-size="36.5" textLength="159.51" lengthAdjust="spacingAndGlyphs">SLC27A2</text>
<text transform="translate(851.12,982.82) rotate(-90)" font-size="21.6" textLength="227.06" lengthAdjust="spacingAndGlyphs">Expression (log2 TPM+1)</text>
<line x1="925.59" y1="791.6" x2="925.59" y2="939.89" stroke="#000" stroke-width="3.2"/>
<line x1="916.39" y1="791.6" x2="934.79" y2="791.6" stroke="#000" stroke-width="3.2"/>
<line x1="916.39" y1="939.89" x2="934.79" y2="939.89" stroke="#000" stroke-width="3.2"/>
<rect x="909.09" y="864.63" width="33" height="24.66" fill="#C3CBDC" stroke="#000" stroke-width="3.2"/>
<line x1="909.09" y1="871.35" x2="942.09" y2="871.35" stroke="#000" stroke-width="3.2"/>
<line x1="981" y1="819.15" x2="981" y2="911.39" stroke="#000" stroke-width="3.2"/>
<line x1="971.8" y1="819.15" x2="990.2" y2="819.15" stroke="#000" stroke-width="3.2"/>
<line x1="971.8" y1="911.39" x2="990.2" y2="911.39" stroke="#000" stroke-width="3.2"/>
<rect x="964.5" y="845.09" width="33" height="41.64" fill="#9EAC87" stroke="#000" stroke-width="3.2"/>
<line x1="964.5" y1="870.07" x2="997.5" y2="870.07" stroke="#000" stroke-width="3.2"/>
<line x1="1036.73" y1="832.28" x2="1036.73" y2="992.74" stroke="#000" stroke-width="3.2"/>
<line x1="1027.53" y1="832.28" x2="1045.93" y2="832.28" stroke="#000" stroke-width="3.2"/>
<line x1="1027.53" y1="992.74" x2="1045.93" y2="992.74" stroke="#000" stroke-width="3.2"/>
<rect x="1020.23" y="888.33" width="33" height="35.23" fill="#E2A97C" stroke="#000" stroke-width="3.2"/>
<line x1="1020.23" y1="908.51" x2="1053.23" y2="908.51" stroke="#000" stroke-width="3.2"/>
<line x1="1092.14" y1="876.48" x2="1092.14" y2="961.99" stroke="#000" stroke-width="3.2"/>
<line x1="1082.94" y1="876.48" x2="1101.34" y2="876.48" stroke="#000" stroke-width="3.2"/>
<line x1="1082.94" y1="961.99" x2="1101.34" y2="961.99" stroke="#000" stroke-width="3.2"/>
<rect x="1075.64" y="890.89" width="33" height="38.75" fill="#E7E48D" stroke="#000" stroke-width="3.2"/>
<line x1="1075.64" y1="916.51" x2="1108.64" y2="916.51" stroke="#000" stroke-width="3.2"/>
<path d="M889.07,766.38V1008.11H1130.57" stroke="#000" stroke-width="2.4" fill="none" stroke-linejoin="miter"/>
<line x1="878.47" y1="767.58" x2="889.07" y2="767.58" stroke="#000" stroke-width="2.4"/>
<text x="867.04" y="775.31" font-size="19.5" font-weight="bold">8</text>
<line x1="878.47" y1="828.11" x2="889.07" y2="828.11" stroke="#000" stroke-width="2.4"/>
<text x="867.13" y="835.84" font-size="19.5" font-weight="bold">6</text>
<line x1="878.47" y1="888.33" x2="889.07" y2="888.33" stroke="#000" stroke-width="2.4"/>
<text x="866.55" y="896.05" font-size="19.5" font-weight="bold">4</text>
<line x1="878.47" y1="948.22" x2="889.07" y2="948.22" stroke="#000" stroke-width="2.4"/>
<text x="867.23" y="956.05" font-size="19.5" font-weight="bold">2</text>
<line x1="878.47" y1="1008.11" x2="889.07" y2="1008.11" stroke="#000" stroke-width="2.4"/>
<text x="867.23" y="1015.84" font-size="19.5" font-weight="bold">0</text>
<line x1="925.59" y1="1008.11" x2="925.59" y2="1018.71" stroke="#000" stroke-width="2.4"/>
<text transform="translate(932.09,1035.51) rotate(-45)" font-size="19.8" text-anchor="end">M2</text>
<line x1="981" y1="1008.11" x2="981" y2="1018.71" stroke="#000" stroke-width="2.4"/>
<text transform="translate(986.5,1035.51) rotate(-45)" font-size="19.8" text-anchor="end">M3</text>
<line x1="1036.73" y1="1008.11" x2="1036.73" y2="1018.71" stroke="#000" stroke-width="2.4"/>
<text transform="translate(1041.73,1035.51) rotate(-45)" font-size="19.8" text-anchor="end">M4</text>
<line x1="1092.14" y1="1008.11" x2="1092.14" y2="1018.71" stroke="#000" stroke-width="2.4"/>
<text transform="translate(1094.64,1035.51) rotate(-45)" font-size="19.8" text-anchor="end">M5</text>
<path d="M925.59,697.12V610.32H1092.14V646.51" stroke="#000" stroke-width="1.9" fill="none" stroke-linejoin="miter"/>
<text x="989.97 1006.77 1023.57" y="611.71" font-size="37" font-weight="bold">***</text>
<path d="M981,675.34V660.93H1092.14V748.36" stroke="#000" stroke-width="1.9" fill="none" stroke-linejoin="miter"/>
<text x="1017.84 1034.64 1051.44" y="662.64" font-size="37" font-weight="bold">***</text>
<path d="M925.59,748.36V712.17H1036.73V725.62" stroke="#000" stroke-width="1.9" fill="none" stroke-linejoin="miter"/>
<text x="962.43 979.23 996.03" y="713.88" font-size="37" font-weight="bold">***</text>
<path d="M985.8,804.41V763.1H1032.24V817.86" stroke="#000" stroke-width="1.9" fill="none" stroke-linejoin="miter"/>
<text x="989.97 1006.77 1023.57" y="764.49" font-size="37" font-weight="bold">***</text>
<text x="1295.79" y="571.25" font-size="36.5" textLength="160.76" lengthAdjust="spacingAndGlyphs">SLC27A3</text>
<text transform="translate(1189.98,982.82) rotate(-90)" font-size="21.6" textLength="227.06" lengthAdjust="spacingAndGlyphs">Expression (log2 TPM+1)</text>
<line x1="1262.85" y1="855.02" x2="1262.85" y2="933.17" stroke="#000" stroke-width="3.2"/>
<line x1="1253.65" y1="855.02" x2="1272.05" y2="855.02" stroke="#000" stroke-width="3.2"/>
<line x1="1253.65" y1="933.17" x2="1272.05" y2="933.17" stroke="#000" stroke-width="3.2"/>
<rect x="1246.35" y="881.6" width="33" height="27.54" fill="#C3CBDC" stroke="#000" stroke-width="3.2"/>
<line x1="1246.35" y1="889.29" x2="1279.35" y2="889.29" stroke="#000" stroke-width="3.2"/>
<line x1="1318.26" y1="821.07" x2="1318.26" y2="889.29" stroke="#000" stroke-width="3.2"/>
<line x1="1309.06" y1="821.07" x2="1327.46" y2="821.07" stroke="#000" stroke-width="3.2"/>
<line x1="1309.06" y1="889.29" x2="1327.46" y2="889.29" stroke="#000" stroke-width="3.2"/>
<rect x="1301.76" y="835.48" width="33" height="28.19" fill="#9EAC87" stroke="#000" stroke-width="3.2"/>
<line x1="1301.76" y1="854.7" x2="1334.76" y2="854.7" stroke="#000" stroke-width="3.2"/>
<line x1="1373.99" y1="845.09" x2="1373.99" y2="921.96" stroke="#000" stroke-width="3.2"/>
<line x1="1364.79" y1="845.09" x2="1383.19" y2="845.09" stroke="#000" stroke-width="3.2"/>
<line x1="1364.79" y1="921.96" x2="1383.19" y2="921.96" stroke="#000" stroke-width="3.2"/>
<rect x="1357.49" y="860.78" width="33" height="23.06" fill="#E2A97C" stroke="#000" stroke-width="3.2"/>
<line x1="1357.49" y1="871.67" x2="1390.49" y2="871.67" stroke="#000" stroke-width="3.2"/>
<line x1="1429.4" y1="821.71" x2="1429.4" y2="889.61" stroke="#000" stroke-width="3.2"/>
<line x1="1420.2" y1="821.71" x2="1438.6" y2="821.71" stroke="#000" stroke-width="3.2"/>
<line x1="1420.2" y1="889.61" x2="1438.6" y2="889.61" stroke="#000" stroke-width="3.2"/>
<rect x="1412.9" y="840.28" width="33" height="31.07" fill="#E7E48D" stroke="#000" stroke-width="3.2"/>
<line x1="1412.9" y1="855.98" x2="1445.9" y2="855.98" stroke="#000" stroke-width="3.2"/>
<path d="M1226.01,764.46V1005.87H1467.19" stroke="#000" stroke-width="2.4" fill="none" stroke-linejoin="miter"/>
<line x1="1215.41" y1="765.66" x2="1226.01" y2="765.66" stroke="#000" stroke-width="2.4"/>
<text x="1203.98" y="773.39" font-size="19.5" font-weight="bold">8</text>
<line x1="1215.41" y1="825.87" x2="1226.01" y2="825.87" stroke="#000" stroke-width="2.4"/>
<text x="1204.07" y="833.6" font-size="19.5" font-weight="bold">6</text>
<line x1="1215.41" y1="885.77" x2="1226.01" y2="885.77" stroke="#000" stroke-width="2.4"/>
<text x="1203.49" y="893.49" font-size="19.5" font-weight="bold">4</text>
<line x1="1215.41" y1="945.98" x2="1226.01" y2="945.98" stroke="#000" stroke-width="2.4"/>
<text x="1204.17" y="953.8" font-size="19.5" font-weight="bold">2</text>
<line x1="1215.41" y1="1005.87" x2="1226.01" y2="1005.87" stroke="#000" stroke-width="2.4"/>
<text x="1204.17" y="1013.6" font-size="19.5" font-weight="bold">0</text>
<line x1="1262.85" y1="1005.87" x2="1262.85" y2="1016.47" stroke="#000" stroke-width="2.4"/>
<text transform="translate(1269.35,1033.27) rotate(-45)" font-size="19.8" text-anchor="end">M2</text>
<line x1="1318.26" y1="1005.87" x2="1318.26" y2="1016.47" stroke="#000" stroke-width="2.4"/>
<text transform="translate(1324.76,1033.27) rotate(-45)" font-size="19.8" text-anchor="end">M3</text>
<line x1="1373.99" y1="1005.87" x2="1373.99" y2="1016.47" stroke="#000" stroke-width="2.4"/>
<text transform="translate(1380.49,1033.27) rotate(-45)" font-size="19.8" text-anchor="end">M4</text>
<line x1="1429.4" y1="1005.87" x2="1429.4" y2="1016.47" stroke="#000" stroke-width="2.4"/>
<text transform="translate(1435.9,1033.27) rotate(-45)" font-size="19.8" text-anchor="end">M5</text>
<path d="M1262.85,681.1V645.87H1429.4V681.74" stroke="#000" stroke-width="1.9" fill="none" stroke-linejoin="miter"/>
<text x="1320.43 1337.23 1354.03 1370.83" y="646.94" font-size="37" font-weight="bold">****</text>
<path d="M1262.85,755.41V691.67H1373.99V704.8" stroke="#000" stroke-width="1.9" fill="none" stroke-linejoin="miter"/>
<text x="1292.89 1309.69 1326.49 1343.29" y="692.42" font-size="37" font-weight="bold">****</text>
<path d="M1318.26,755.41V741.96H1373.99V777.83" stroke="#000" stroke-width="1.9" fill="none" stroke-linejoin="miter"/>
<text x="1334.03 1350.83" y="743.03" font-size="37" font-weight="bold">**</text>
<path d="M1262.85,840.28V793.2H1318.26V806.65" stroke="#000" stroke-width="1.9" fill="none" stroke-linejoin="miter"/>
<text x="1265.02 1281.82 1298.62 1315.42" y="794.27" font-size="37" font-weight="bold">****</text>
<text x="1619.83" y="571.25" font-size="36.5" textLength="144.52" lengthAdjust="spacingAndGlyphs">ELOVL3</text>
<text transform="translate(1546.46,982.82) rotate(-90)" font-size="21.6" textLength="227.06" lengthAdjust="spacingAndGlyphs">Expression (log2 TPM+1)</text>
<line x1="1616.44" y1="889.29" x2="1616.44" y2="1005.87" stroke="#000" stroke-width="3.2"/>
<line x1="1607.24" y1="889.29" x2="1625.64" y2="889.29" stroke="#000" stroke-width="3.2"/>
<line x1="1607.24" y1="1005.87" x2="1625.64" y2="1005.87" stroke="#000" stroke-width="3.2"/>
<rect x="1599.94" y="959.43" width="33" height="36.19" fill="#C3CBDC" stroke="#000" stroke-width="3.2"/>
<line x1="1599.94" y1="991.46" x2="1632.94" y2="991.46" stroke="#000" stroke-width="3.2"/>
<line x1="1671.53" y1="847.33" x2="1671.53" y2="994.34" stroke="#000" stroke-width="3.2"/>
<line x1="1662.33" y1="847.33" x2="1680.73" y2="847.33" stroke="#000" stroke-width="3.2"/>
<line x1="1662.33" y1="994.34" x2="1680.73" y2="994.34" stroke="#000" stroke-width="3.2"/>
<rect x="1655.03" y="904.98" width="33" height="51.25" fill="#9EAC87" stroke="#000" stroke-width="3.2"/>
<line x1="1655.03" y1="930.93" x2="1688.03" y2="930.93" stroke="#000" stroke-width="3.2"/>
<line x1="1726.94" y1="810.18" x2="1726.94" y2="1001.07" stroke="#000" stroke-width="3.2"/>
<line x1="1717.74" y1="810.18" x2="1736.14" y2="810.18" stroke="#000" stroke-width="3.2"/>
<line x1="1717.74" y1="1001.07" x2="1736.14" y2="1001.07" stroke="#000" stroke-width="3.2"/>
<rect x="1710.44" y="921" width="33" height="52.85" fill="#E2A97C" stroke="#000" stroke-width="3.2"/>
<line x1="1710.44" y1="959.75" x2="1743.44" y2="959.75" stroke="#000" stroke-width="3.2"/>
<line x1="1782.35" y1="872.63" x2="1782.35" y2="982.17" stroke="#000" stroke-width="3.2"/>
<line x1="1773.15" y1="872.63" x2="1791.55" y2="872.63" stroke="#000" stroke-width="3.2"/>
<line x1="1773.15" y1="982.17" x2="1791.55" y2="982.17" stroke="#000" stroke-width="3.2"/>
<rect x="1765.85" y="894.73" width="33" height="46.12" fill="#E7E48D" stroke="#000" stroke-width="3.2"/>
<line x1="1765.85" y1="908.51" x2="1798.85" y2="908.51" stroke="#000" stroke-width="3.2"/>
<path d="M1580.25,764.46V1005.87H1820.46" stroke="#000" stroke-width="2.4" fill="none" stroke-linejoin="miter"/>
<line x1="1569.65" y1="765.66" x2="1580.25" y2="765.66" stroke="#000" stroke-width="2.4"/>
<text x="1558.31" y="773.39" font-size="19.5" font-weight="bold">6</text>
<line x1="1569.65" y1="846.05" x2="1580.25" y2="846.05" stroke="#000" stroke-width="2.4"/>
<text x="1557.72" y="853.78" font-size="19.5" font-weight="bold">4</text>
<line x1="1569.65" y1="925.8" x2="1580.25" y2="925.8" stroke="#000" stroke-width="2.4"/>
<text x="1558.41" y="933.63" font-size="19.5" font-weight="bold">2</text>
<line x1="1569.65" y1="1005.87" x2="1580.25" y2="1005.87" stroke="#000" stroke-width="2.4"/>
<text x="1558.41" y="1013.6" font-size="19.5" font-weight="bold">0</text>
<line x1="1616.44" y1="1005.87" x2="1616.44" y2="1016.47" stroke="#000" stroke-width="2.4"/>
<text transform="translate(1622.94,1033.27) rotate(-45)" font-size="19.8" text-anchor="end">M2</text>
<line x1="1671.53" y1="1005.87" x2="1671.53" y2="1016.47" stroke="#000" stroke-width="2.4"/>
<text transform="translate(1678.03,1033.27) rotate(-45)" font-size="19.8" text-anchor="end">M3</text>
<line x1="1726.94" y1="1005.87" x2="1726.94" y2="1016.47" stroke="#000" stroke-width="2.4"/>
<text transform="translate(1733.44,1033.27) rotate(-45)" font-size="19.8" text-anchor="end">M4</text>
<line x1="1782.35" y1="1005.87" x2="1782.35" y2="1016.47" stroke="#000" stroke-width="2.4"/>
<text transform="translate(1788.85,1033.27) rotate(-45)" font-size="19.8" text-anchor="end">M5</text>
<path d="M1616.44,745.16V731.39H1726.94V767.58" stroke="#000" stroke-width="1.9" fill="none" stroke-linejoin="miter"/>
<text x="1659.12 1675.92" y="732.46" font-size="37" font-weight="bold">**</text>
<path d="M1616.44,874.88V781.99H1667.37V832.28" stroke="#000" stroke-width="1.9" fill="none" stroke-linejoin="miter"/>
<text x="1616.05 1632.85 1649.65 1666.45" y="783.7" font-size="37" font-weight="bold">****</text>
<text x="-0.28" y="1141.25" font-size="40" font-weight="bold" textLength="23.02" lengthAdjust="spacingAndGlyphs">E</text>
<text x="177.39" y="1142.21" font-size="36.5" textLength="117.45" lengthAdjust="spacingAndGlyphs">FADS1</text>
<text transform="translate(67.72,1499.97) rotate(-90)" font-size="21.6" textLength="227.06" lengthAdjust="spacingAndGlyphs">Expression (log2 TPM+1)</text>
<line x1="152.78" y1="1306.51" x2="152.78" y2="1445.2" stroke="#000" stroke-width="4.7"/>
<line x1="141.48" y1="1306.51" x2="164.08" y2="1306.51" stroke="#000" stroke-width="4.7" stroke-linecap="round"/>
<line x1="141.48" y1="1445.2" x2="164.08" y2="1445.2" stroke="#000" stroke-width="4.7" stroke-linecap="round"/>
<rect x="132.18" y="1356.52" width="41.2" height="37.25" fill="#C3CBDC" stroke="#000" stroke-width="4.7"/>
<line x1="129.98" y1="1371.21" x2="175.58" y2="1371.21" stroke="#000" stroke-width="4.7" stroke-linecap="round"/>
<line x1="221.96" y1="1362.24" x2="221.96" y2="1473.7" stroke="#000" stroke-width="4.7"/>
<line x1="210.66" y1="1362.24" x2="233.26" y2="1362.24" stroke="#000" stroke-width="4.7" stroke-linecap="round"/>
<line x1="210.66" y1="1473.7" x2="233.26" y2="1473.7" stroke="#000" stroke-width="4.7" stroke-linecap="round"/>
<rect x="201.36" y="1380.54" width="41.2" height="44.3" fill="#9EAC87" stroke="#000" stroke-width="4.7"/>
<line x1="199.16" y1="1390.43" x2="244.76" y2="1390.43" stroke="#000" stroke-width="4.7" stroke-linecap="round"/>
<line x1="291.14" y1="1342.06" x2="291.14" y2="1406.76" stroke="#000" stroke-width="4.7"/>
<line x1="279.84" y1="1342.06" x2="302.44" y2="1342.06" stroke="#000" stroke-width="4.7" stroke-linecap="round"/>
<line x1="279.84" y1="1406.76" x2="302.44" y2="1406.76" stroke="#000" stroke-width="4.7" stroke-linecap="round"/>
<rect x="270.54" y="1364.84" width="41.2" height="17.08" fill="#E2A97C" stroke="#000" stroke-width="4.7"/>
<line x1="268.34" y1="1373.45" x2="313.94" y2="1373.45" stroke="#000" stroke-width="4.7" stroke-linecap="round"/>
<line x1="360.32" y1="1316.44" x2="360.32" y2="1464.41" stroke="#000" stroke-width="4.7"/>
<line x1="349.02" y1="1316.44" x2="371.62" y2="1316.44" stroke="#000" stroke-width="4.7" stroke-linecap="round"/>
<line x1="349.02" y1="1464.41" x2="371.62" y2="1464.41" stroke="#000" stroke-width="4.7" stroke-linecap="round"/>
<rect x="339.72" y="1348.19" width="41.2" height="37.9" fill="#E7E48D" stroke="#000" stroke-width="4.7"/>
<line x1="337.52" y1="1363.2" x2="383.12" y2="1363.2" stroke="#000" stroke-width="4.7" stroke-linecap="round"/>
<path d="M106.65,1233.69V1535.2H409.32" stroke="#000" stroke-width="2.8" fill="none" stroke-linejoin="miter"/>
<line x1="92.65" y1="1235.09" x2="106.65" y2="1235.09" stroke="#000" stroke-width="2.8"/>
<text x="77.6" y="1243.46" font-size="23.4">8</text>
<line x1="92.65" y1="1310.36" x2="106.65" y2="1310.36" stroke="#000" stroke-width="2.8"/>
<text x="77.6" y="1318.73" font-size="23.4">6</text>
<line x1="92.65" y1="1385.3" x2="106.65" y2="1385.3" stroke="#000" stroke-width="2.8"/>
<text x="77.37" y="1393.68" font-size="23.4">4</text>
<line x1="92.65" y1="1460.25" x2="106.65" y2="1460.25" stroke="#000" stroke-width="2.8"/>
<text x="77.84" y="1468.74" font-size="23.4">2</text>
<line x1="92.65" y1="1535.2" x2="106.65" y2="1535.2" stroke="#000" stroke-width="2.8"/>
<text x="77.49" y="1543.57" font-size="23.4">0</text>
<line x1="152.78" y1="1535.2" x2="152.78" y2="1549.2" stroke="#000" stroke-width="2.8"/>
<text transform="translate(161.58,1565.6) rotate(-45)" font-size="25" text-anchor="end">M2</text>
<line x1="221.96" y1="1535.2" x2="221.96" y2="1549.2" stroke="#000" stroke-width="2.8"/>
<text transform="translate(230.76,1565.6) rotate(-45)" font-size="25" text-anchor="end">M3</text>
<line x1="291.14" y1="1535.2" x2="291.14" y2="1549.2" stroke="#000" stroke-width="2.8"/>
<text transform="translate(299.94,1565.6) rotate(-45)" font-size="25" text-anchor="end">M4</text>
<line x1="360.32" y1="1535.2" x2="360.32" y2="1549.2" stroke="#000" stroke-width="2.8"/>
<text transform="translate(369.12,1565.6) rotate(-45)" font-size="25" text-anchor="end">M5</text>
<path d="M216.19,1282.81V1255.91H361.92V1282.81" stroke="#000" stroke-width="2.9" fill="none" stroke-linejoin="miter"/>
<text x="286.56" y="1260.11" font-size="46.5" font-weight="bold">*</text>
<path d="M213.95,1329.25V1307.15H296.9V1329.25" stroke="#000" stroke-width="2.9" fill="none" stroke-linejoin="miter"/>
<text x="245.56" y="1304.95" font-size="46.5" font-weight="bold">*</text>
<text x="598.89" y="1142.21" font-size="36.5">SREBF1</text>
<text transform="translate(459.71,1499.97) rotate(-90)" font-size="21.6" textLength="227.06" lengthAdjust="spacingAndGlyphs">Expression (log2 TPM+1)</text>
<line x1="550.53" y1="1354.56" x2="550.53" y2="1442.95" stroke="#000" stroke-width="4.7"/>
<line x1="539.23" y1="1354.56" x2="561.83" y2="1354.56" stroke="#000" stroke-width="4.7" stroke-linecap="round"/>
<line x1="539.23" y1="1442.95" x2="561.83" y2="1442.95" stroke="#000" stroke-width="4.7" stroke-linecap="round"/>
<rect x="529.93" y="1382.46" width="41.2" height="20.92" fill="#C3CBDC" stroke="#000" stroke-width="4.7"/>
<line x1="527.73" y1="1397.47" x2="573.33" y2="1397.47" stroke="#000" stroke-width="4.7" stroke-linecap="round"/>
<line x1="619.72" y1="1396.83" x2="619.72" y2="1446.48" stroke="#000" stroke-width="4.7"/>
<line x1="608.42" y1="1396.83" x2="631.02" y2="1396.83" stroke="#000" stroke-width="4.7" stroke-linecap="round"/>
<line x1="608.42" y1="1446.48" x2="631.02" y2="1446.48" stroke="#000" stroke-width="4.7" stroke-linecap="round"/>
<rect x="599.12" y="1404.24" width="41.2" height="21.56" fill="#9EAC87" stroke="#000" stroke-width="4.7"/>
<line x1="596.92" y1="1407.08" x2="642.52" y2="1407.08" stroke="#000" stroke-width="4.7" stroke-linecap="round"/>
<line x1="689.22" y1="1306.83" x2="689.22" y2="1440.71" stroke="#000" stroke-width="4.7"/>
<line x1="677.92" y1="1306.83" x2="700.52" y2="1306.83" stroke="#000" stroke-width="4.7" stroke-linecap="round"/>
<line x1="677.92" y1="1440.71" x2="700.52" y2="1440.71" stroke="#000" stroke-width="4.7" stroke-linecap="round"/>
<rect x="668.62" y="1390.79" width="41.2" height="16.76" fill="#E2A97C" stroke="#000" stroke-width="4.7"/>
<line x1="666.42" y1="1402.92" x2="712.02" y2="1402.92" stroke="#000" stroke-width="4.7" stroke-linecap="round"/>
<line x1="758.4" y1="1371.85" x2="758.4" y2="1439.43" stroke="#000" stroke-width="4.7"/>
<line x1="747.1" y1="1371.85" x2="769.7" y2="1371.85" stroke="#000" stroke-width="4.7" stroke-linecap="round"/>
<line x1="747.1" y1="1439.43" x2="769.7" y2="1439.43" stroke="#000" stroke-width="4.7" stroke-linecap="round"/>
<rect x="737.8" y="1382.46" width="41.2" height="9.39" fill="#E7E48D" stroke="#000" stroke-width="4.7"/>
<line x1="735.6" y1="1387.86" x2="781.2" y2="1387.86" stroke="#000" stroke-width="4.7" stroke-linecap="round"/>
<path d="M505.05,1233.69V1535.2H807.4" stroke="#000" stroke-width="2.8" fill="none" stroke-linejoin="miter"/>
<line x1="491.05" y1="1235.09" x2="505.05" y2="1235.09" stroke="#000" stroke-width="2.8"/>
<text x="462.9" y="1243.46" font-size="23.4">10</text>
<line x1="491.05" y1="1295.3" x2="505.05" y2="1295.3" stroke="#000" stroke-width="2.8"/>
<text x="476" y="1303.68" font-size="23.4">8</text>
<line x1="491.05" y1="1355.2" x2="505.05" y2="1355.2" stroke="#000" stroke-width="2.8"/>
<text x="476" y="1363.57" font-size="23.4">6</text>
<line x1="491.05" y1="1415.41" x2="505.05" y2="1415.41" stroke="#000" stroke-width="2.8"/>
<text x="475.77" y="1423.78" font-size="23.4">4</text>
<line x1="491.05" y1="1475.3" x2="505.05" y2="1475.3" stroke="#000" stroke-width="2.8"/>
<text x="476.24" y="1483.79" font-size="23.4">2</text>
<line x1="491.05" y1="1535.2" x2="505.05" y2="1535.2" stroke="#000" stroke-width="2.8"/>
<text x="475.89" y="1543.57" font-size="23.4">0</text>
<line x1="550.53" y1="1535.2" x2="550.53" y2="1549.2" stroke="#000" stroke-width="2.8"/>
<text transform="translate(559.33,1565.6) rotate(-45)" font-size="25" text-anchor="end">M2</text>
<line x1="619.72" y1="1535.2" x2="619.72" y2="1549.2" stroke="#000" stroke-width="2.8"/>
<text transform="translate(628.52,1565.6) rotate(-45)" font-size="25" text-anchor="end">M3</text>
<line x1="689.22" y1="1535.2" x2="689.22" y2="1549.2" stroke="#000" stroke-width="2.8"/>
<text transform="translate(698.02,1565.6) rotate(-45)" font-size="25" text-anchor="end">M4</text>
<line x1="758.4" y1="1535.2" x2="758.4" y2="1549.2" stroke="#000" stroke-width="2.8"/>
<text transform="translate(767.2,1565.6) rotate(-45)" font-size="25" text-anchor="end">M5</text>
<path d="M550.53,1337.26V1271.28H614.27V1379.86" stroke="#000" stroke-width="2.9" fill="none" stroke-linejoin="miter"/>
<text x="567.09 591.75" y="1271.96" font-size="46.5" font-weight="bold">**</text>
<path d="M625.8,1379.86V1271.28H758.4V1354.88" stroke="#000" stroke-width="2.9" fill="none" stroke-linejoin="miter"/>
<text x="676.95 701.61" y="1271.96" font-size="46.5" font-weight="bold">**</text>
<text x="982.84" y="1142.21" font-size="36.5" textLength="78.96" lengthAdjust="spacingAndGlyphs">SCD</text>
<text transform="translate(857.47,1499.97) rotate(-90)" font-size="21.6" textLength="227.06" lengthAdjust="spacingAndGlyphs">Expression (log2 TPM+1)</text>
<line x1="942.85" y1="1300.43" x2="942.85" y2="1508.61" stroke="#000" stroke-width="4.7"/>
<line x1="931.55" y1="1300.43" x2="954.15" y2="1300.43" stroke="#000" stroke-width="4.7" stroke-linecap="round"/>
<line x1="931.55" y1="1508.61" x2="954.15" y2="1508.61" stroke="#000" stroke-width="4.7" stroke-linecap="round"/>
<rect x="922.25" y="1401.68" width="41.2" height="61.6" fill="#C3CBDC" stroke="#000" stroke-width="4.7"/>
<line x1="920.05" y1="1427.9" x2="965.65" y2="1427.9" stroke="#000" stroke-width="4.7" stroke-linecap="round"/>
<line x1="1012.03" y1="1420.21" x2="1012.03" y2="1513.1" stroke="#000" stroke-width="4.7"/>
<line x1="1000.73" y1="1420.21" x2="1023.33" y2="1420.21" stroke="#000" stroke-width="4.7" stroke-linecap="round"/>
<line x1="1000.73" y1="1513.1" x2="1023.33" y2="1513.1" stroke="#000" stroke-width="4.7" stroke-linecap="round"/>
<rect x="991.43" y="1441.71" width="41.2" height="37.57" fill="#9EAC87" stroke="#000" stroke-width="4.7"/>
<line x1="989.23" y1="1465.37" x2="1034.83" y2="1465.37" stroke="#000" stroke-width="4.7" stroke-linecap="round"/>
<line x1="1081.21" y1="1360.64" x2="1081.21" y2="1491.32" stroke="#000" stroke-width="4.7"/>
<line x1="1069.91" y1="1360.64" x2="1092.51" y2="1360.64" stroke="#000" stroke-width="4.7" stroke-linecap="round"/>
<line x1="1069.91" y1="1491.32" x2="1092.51" y2="1491.32" stroke="#000" stroke-width="4.7" stroke-linecap="round"/>
<rect x="1060.61" y="1420.25" width="41.2" height="51.99" fill="#E2A97C" stroke="#000" stroke-width="4.7"/>
<line x1="1058.41" y1="1460.89" x2="1104.01" y2="1460.89" stroke="#000" stroke-width="4.7" stroke-linecap="round"/>
<line x1="1150.71" y1="1337.58" x2="1150.71" y2="1486.19" stroke="#000" stroke-width="4.7"/>
<line x1="1139.41" y1="1337.58" x2="1162.01" y2="1337.58" stroke="#000" stroke-width="4.7" stroke-linecap="round"/>
<line x1="1139.41" y1="1486.19" x2="1162.01" y2="1486.19" stroke="#000" stroke-width="4.7" stroke-linecap="round"/>
<rect x="1130.11" y="1407.44" width="41.2" height="42.7" fill="#E7E48D" stroke="#000" stroke-width="4.7"/>
<line x1="1127.91" y1="1421.81" x2="1173.51" y2="1421.81" stroke="#000" stroke-width="4.7" stroke-linecap="round"/>
<path d="M897.37,1234.33V1535.84H1199.4" stroke="#000" stroke-width="2.8" fill="none" stroke-linejoin="miter"/>
<line x1="883.37" y1="1235.73" x2="897.37" y2="1235.73" stroke="#000" stroke-width="2.8"/>
<text x="855.21" y="1244.1" font-size="23.4">10</text>
<line x1="883.37" y1="1295.62" x2="897.37" y2="1295.62" stroke="#000" stroke-width="2.8"/>
<text x="868.32" y="1304" font-size="23.4">8</text>
<line x1="883.37" y1="1355.84" x2="897.37" y2="1355.84" stroke="#000" stroke-width="2.8"/>
<text x="868.32" y="1364.21" font-size="23.4">6</text>
<line x1="883.37" y1="1415.73" x2="897.37" y2="1415.73" stroke="#000" stroke-width="2.8"/>
<text x="868.08" y="1424.1" font-size="23.4">4</text>
<line x1="883.37" y1="1475.94" x2="897.37" y2="1475.94" stroke="#000" stroke-width="2.8"/>
<text x="868.55" y="1484.43" font-size="23.4">2</text>
<line x1="883.37" y1="1535.84" x2="897.37" y2="1535.84" stroke="#000" stroke-width="2.8"/>
<text x="868.2" y="1544.21" font-size="23.4">0</text>
<line x1="942.85" y1="1535.84" x2="942.85" y2="1549.84" stroke="#000" stroke-width="2.8"/>
<text transform="translate(951.65,1566.24) rotate(-45)" font-size="25" text-anchor="end">M2</text>
<line x1="1012.03" y1="1535.84" x2="1012.03" y2="1549.84" stroke="#000" stroke-width="2.8"/>
<text transform="translate(1020.83,1566.24) rotate(-45)" font-size="25" text-anchor="end">M3</text>
<line x1="1081.21" y1="1535.84" x2="1081.21" y2="1549.84" stroke="#000" stroke-width="2.8"/>
<text transform="translate(1090.01,1566.24) rotate(-45)" font-size="25" text-anchor="end">M4</text>
<line x1="1150.71" y1="1535.84" x2="1150.71" y2="1549.84" stroke="#000" stroke-width="2.8"/>
<text transform="translate(1159.51,1566.24) rotate(-45)" font-size="25" text-anchor="end">M5</text>
<path d="M942.85,1283.77V1264.88H1006.58V1403.88" stroke="#000" stroke-width="2.9" fill="none" stroke-linejoin="miter"/>
<text x="968.69" y="1265.56" font-size="46.5" font-weight="bold">*</text>
<path d="M1018.11,1403.88V1264.88H1150.71V1320.6" stroke="#000" stroke-width="2.9" fill="none" stroke-linejoin="miter"/>
<text x="1078.55" y="1265.56" font-size="46.5" font-weight="bold">*</text>
<text x="1346.3" y="1142.21" font-size="36.5" textLength="141.22" lengthAdjust="spacingAndGlyphs">ELOVL5</text>
<text transform="translate(1250.1,1499.97) rotate(-90)" font-size="21.6" textLength="227.06" lengthAdjust="spacingAndGlyphs">Expression (log2 TPM+1)</text>
<line x1="1335.8" y1="1304.27" x2="1335.8" y2="1403.24" stroke="#000" stroke-width="4.7"/>
<line x1="1324.5" y1="1304.27" x2="1347.1" y2="1304.27" stroke="#000" stroke-width="4.7" stroke-linecap="round"/>
<line x1="1324.5" y1="1403.24" x2="1347.1" y2="1403.24" stroke="#000" stroke-width="4.7" stroke-linecap="round"/>
<rect x="1315.2" y="1331.53" width="41.2" height="17.4" fill="#C3CBDC" stroke="#000" stroke-width="4.7"/>
<line x1="1313" y1="1338.22" x2="1358.6" y2="1338.22" stroke="#000" stroke-width="4.7" stroke-linecap="round"/>
<line x1="1404.98" y1="1341.42" x2="1404.98" y2="1447.12" stroke="#000" stroke-width="4.7"/>
<line x1="1393.68" y1="1341.42" x2="1416.28" y2="1341.42" stroke="#000" stroke-width="4.7" stroke-linecap="round"/>
<line x1="1393.68" y1="1447.12" x2="1416.28" y2="1447.12" stroke="#000" stroke-width="4.7" stroke-linecap="round"/>
<rect x="1384.38" y="1353.63" width="41.2" height="38.86" fill="#9EAC87" stroke="#000" stroke-width="4.7"/>
<line x1="1382.18" y1="1359.68" x2="1427.78" y2="1359.68" stroke="#000" stroke-width="4.7" stroke-linecap="round"/>
<line x1="1474.48" y1="1309.72" x2="1474.48" y2="1375.05" stroke="#000" stroke-width="4.7"/>
<line x1="1463.18" y1="1309.72" x2="1485.78" y2="1309.72" stroke="#000" stroke-width="4.7" stroke-linecap="round"/>
<line x1="1463.18" y1="1375.05" x2="1485.78" y2="1375.05" stroke="#000" stroke-width="4.7" stroke-linecap="round"/>
<rect x="1453.88" y="1334.74" width="41.2" height="14.83" fill="#E2A97C" stroke="#000" stroke-width="4.7"/>
<line x1="1451.68" y1="1341.74" x2="1497.28" y2="1341.74" stroke="#000" stroke-width="4.7" stroke-linecap="round"/>
<line x1="1543.67" y1="1329.57" x2="1543.67" y2="1382.1" stroke="#000" stroke-width="4.7"/>
<line x1="1532.37" y1="1329.57" x2="1554.97" y2="1329.57" stroke="#000" stroke-width="4.7" stroke-linecap="round"/>
<line x1="1532.37" y1="1382.1" x2="1554.97" y2="1382.1" stroke="#000" stroke-width="4.7" stroke-linecap="round"/>
<rect x="1523.07" y="1336.02" width="41.2" height="11.95" fill="#E7E48D" stroke="#000" stroke-width="4.7"/>
<line x1="1520.87" y1="1346.55" x2="1566.47" y2="1346.55" stroke="#000" stroke-width="4.7" stroke-linecap="round"/>
<path d="M1290.64,1233.69V1535.2H1592.35" stroke="#000" stroke-width="2.8" fill="none" stroke-linejoin="miter"/>
<line x1="1276.64" y1="1235.09" x2="1290.64" y2="1235.09" stroke="#000" stroke-width="2.8"/>
<text x="1248.49" y="1243.46" font-size="23.4">10</text>
<line x1="1276.64" y1="1294.98" x2="1290.64" y2="1294.98" stroke="#000" stroke-width="2.8"/>
<text x="1261.59" y="1303.36" font-size="23.4">8</text>
<line x1="1276.64" y1="1355.2" x2="1290.64" y2="1355.2" stroke="#000" stroke-width="2.8"/>
<text x="1261.59" y="1363.57" font-size="23.4">6</text>
<line x1="1276.64" y1="1415.09" x2="1290.64" y2="1415.09" stroke="#000" stroke-width="2.8"/>
<text x="1261.36" y="1423.46" font-size="23.4">4</text>
<line x1="1276.64" y1="1475.3" x2="1290.64" y2="1475.3" stroke="#000" stroke-width="2.8"/>
<text x="1261.82" y="1483.79" font-size="23.4">2</text>
<line x1="1276.64" y1="1535.2" x2="1290.64" y2="1535.2" stroke="#000" stroke-width="2.8"/>
<text x="1261.47" y="1543.57" font-size="23.4">0</text>
<line x1="1335.8" y1="1535.2" x2="1335.8" y2="1549.2" stroke="#000" stroke-width="2.8"/>
<text transform="translate(1344.6,1565.6) rotate(-45)" font-size="25" text-anchor="end">M2</text>
<line x1="1404.98" y1="1535.2" x2="1404.98" y2="1549.2" stroke="#000" stroke-width="2.8"/>
<text transform="translate(1413.78,1565.6) rotate(-45)" font-size="25" text-anchor="end">M3</text>
<line x1="1474.48" y1="1535.2" x2="1474.48" y2="1549.2" stroke="#000" stroke-width="2.8"/>
<text transform="translate(1483.28,1565.6) rotate(-45)" font-size="25" text-anchor="end">M4</text>
<line x1="1543.67" y1="1535.2" x2="1543.67" y2="1549.2" stroke="#000" stroke-width="2.8"/>
<text transform="translate(1552.47,1565.6) rotate(-45)" font-size="25" text-anchor="end">M5</text>
<path d="M1404.98,1236.69V1209.79H1551.67V1236.69" stroke="#000" stroke-width="2.9" fill="none" stroke-linejoin="miter"/>
<text x="1471.82" y="1212.07" font-size="46.5" font-weight="bold">*</text>
<path d="M1334.52,1288.58V1264.88H1398.26V1320.6" stroke="#000" stroke-width="2.9" fill="none" stroke-linejoin="miter"/>
<text x="1341.42 1359.72 1378.02" y="1271.96" font-size="46.5" font-weight="bold">***</text>
<path d="M1404.98,1320.6V1264.88H1468.4V1288.58" stroke="#000" stroke-width="2.9" fill="none" stroke-linejoin="miter"/>
<text x="1420.71 1439.01" y="1269.72" font-size="46.5" font-weight="bold">**</text>
<text x="1747.95" y="1142.21" font-size="36.5" textLength="140.89" lengthAdjust="spacingAndGlyphs">ELOVL6</text>
<text transform="translate(1642.77,1499.97) rotate(-90)" font-size="21.6" textLength="227.06" lengthAdjust="spacingAndGlyphs">Expression (log2 TPM+1)</text>
<line x1="1720.78" y1="1299.15" x2="1720.78" y2="1492.6" stroke="#000" stroke-width="4.7"/>
<line x1="1709.48" y1="1299.15" x2="1732.08" y2="1299.15" stroke="#000" stroke-width="4.7" stroke-linecap="round"/>
<line x1="1709.48" y1="1492.6" x2="1732.08" y2="1492.6" stroke="#000" stroke-width="4.7" stroke-linecap="round"/>
<rect x="1700.18" y="1360.68" width="41.2" height="67.04" fill="#C3CBDC" stroke="#000" stroke-width="4.7"/>
<line x1="1697.98" y1="1393.95" x2="1743.58" y2="1393.95" stroke="#000" stroke-width="4.7" stroke-linecap="round"/>
<line x1="1789.96" y1="1401.32" x2="1789.96" y2="1518.86" stroke="#000" stroke-width="4.7"/>
<line x1="1778.66" y1="1401.32" x2="1801.26" y2="1401.32" stroke="#000" stroke-width="4.7" stroke-linecap="round"/>
<line x1="1778.66" y1="1518.86" x2="1801.26" y2="1518.86" stroke="#000" stroke-width="4.7" stroke-linecap="round"/>
<rect x="1769.36" y="1474.38" width="41.2" height="28.29" fill="#9EAC87" stroke="#000" stroke-width="4.7"/>
<line x1="1767.16" y1="1491" x2="1812.76" y2="1491" stroke="#000" stroke-width="4.7" stroke-linecap="round"/>
<line x1="1859.15" y1="1321.25" x2="1859.15" y2="1514.38" stroke="#000" stroke-width="4.7"/>
<line x1="1847.85" y1="1321.25" x2="1870.45" y2="1321.25" stroke="#000" stroke-width="4.7" stroke-linecap="round"/>
<line x1="1847.85" y1="1514.38" x2="1870.45" y2="1514.38" stroke="#000" stroke-width="4.7" stroke-linecap="round"/>
<rect x="1838.55" y="1381.5" width="41.2" height="63.2" fill="#E2A97C" stroke="#000" stroke-width="4.7"/>
<line x1="1836.35" y1="1420.53" x2="1881.95" y2="1420.53" stroke="#000" stroke-width="4.7" stroke-linecap="round"/>
<line x1="1928.33" y1="1288.58" x2="1928.33" y2="1467.3" stroke="#000" stroke-width="4.7"/>
<line x1="1917.03" y1="1288.58" x2="1939.63" y2="1288.58" stroke="#000" stroke-width="4.7" stroke-linecap="round"/>
<line x1="1917.03" y1="1467.3" x2="1939.63" y2="1467.3" stroke="#000" stroke-width="4.7" stroke-linecap="round"/>
<rect x="1907.73" y="1313.28" width="41.2" height="133.34" fill="#E7E48D" stroke="#000" stroke-width="4.7"/>
<line x1="1905.53" y1="1396.83" x2="1951.13" y2="1396.83" stroke="#000" stroke-width="4.7" stroke-linecap="round"/>
<path d="M1675.3,1233.69V1535.2H1977.33" stroke="#000" stroke-width="2.8" fill="none" stroke-linejoin="miter"/>
<line x1="1661.3" y1="1235.09" x2="1675.3" y2="1235.09" stroke="#000" stroke-width="2.8"/>
<text x="1646.25" y="1243.46" font-size="23.4">6</text>
<line x1="1661.3" y1="1335.34" x2="1675.3" y2="1335.34" stroke="#000" stroke-width="2.8"/>
<text x="1646.02" y="1343.71" font-size="23.4">4</text>
<line x1="1661.3" y1="1435.27" x2="1675.3" y2="1435.27" stroke="#000" stroke-width="2.8"/>
<text x="1646.49" y="1443.76" font-size="23.4">2</text>
<line x1="1661.3" y1="1535.2" x2="1675.3" y2="1535.2" stroke="#000" stroke-width="2.8"/>
<text x="1646.13" y="1543.57" font-size="23.4">0</text>
<line x1="1720.78" y1="1535.2" x2="1720.78" y2="1549.2" stroke="#000" stroke-width="2.8"/>
<text transform="translate(1729.58,1565.6) rotate(-45)" font-size="25" text-anchor="end">M2</text>
<line x1="1789.96" y1="1535.2" x2="1789.96" y2="1549.2" stroke="#000" stroke-width="2.8"/>
<text transform="translate(1798.76,1565.6) rotate(-45)" font-size="25" text-anchor="end">M3</text>
<line x1="1859.15" y1="1535.2" x2="1859.15" y2="1549.2" stroke="#000" stroke-width="2.8"/>
<text transform="translate(1867.95,1565.6) rotate(-45)" font-size="25" text-anchor="end">M4</text>
<line x1="1928.33" y1="1535.2" x2="1928.33" y2="1549.2" stroke="#000" stroke-width="2.8"/>
<text transform="translate(1937.13,1565.6) rotate(-45)" font-size="25" text-anchor="end">M5</text>
<path d="M1789.96,1207.86V1188.65H1859.15V1207.86" stroke="#000" stroke-width="2.9" fill="none" stroke-linejoin="miter"/>
<text x="1790.51 1815.49 1834.38 1852.64" y="1190.29" font-size="46.5" font-weight="bold">****</text>
<path d="M1720.78,1282.17V1253.35H1784.2V1384.66" stroke="#000" stroke-width="2.9" fill="none" stroke-linejoin="miter"/>
<text x="1718.44 1743.1 1762.32 1780.9" y="1253.71" font-size="46.5" font-weight="bold">****</text>
<path d="M1795.73,1384.66V1253.35H1928.97V1271.92" stroke="#000" stroke-width="2.9" fill="none" stroke-linejoin="miter"/>
<text x="1837.59 1862.89 1880.83" y="1253.71" font-size="46.5" font-weight="bold">***</text>
<text x="-3.06" y="1719.3" font-size="40" font-weight="bold" textLength="24.07" lengthAdjust="spacingAndGlyphs">F</text>
<text x="797.2" y="1721.6" font-size="50.5" textLength="471.96" lengthAdjust="spacingAndGlyphs">AML lipid metabolism</text>
<rect x="58" y="1772.7" width="1865.7" height="994.3" fill="#fff" stroke="#000" stroke-width="2.6" rx="86"/>
<rect x="86.5" y="1790.7" width="1809" height="958.4" fill="#DFF3F8" stroke="#000" stroke-width="2.6" rx="85"/>
<rect x="742.7" y="1822.7" width="453.3" height="174.2" fill="#F5D9C9" rx="30"/>
<text x="771.13" y="1872.1" font-size="33.6" textLength="293.18" lengthAdjust="spacingAndGlyphs">Metabolism of lipids</text>
<text x="771.13" y="1924" font-size="33.6" textLength="381.46" lengthAdjust="spacingAndGlyphs">Lipid biosynthetic process</text>
<text x="771.13" y="1972" font-size="33.6" textLength="258.3" lengthAdjust="spacingAndGlyphs">Lipid modification</text>
<path d="M1081.6,1888.4V1849.3" stroke="#F21010" stroke-width="3" fill="none"/>
<path d="M1081.6,1833L1098.4,1850.3H1064.8Z" fill="#F21010"/>
<path d="M1166.8,1932.2V1893.5" stroke="#F21010" stroke-width="3" fill="none"/>
<path d="M1166.8,1877.2L1183.6,1894.5H1150Z" fill="#F21010"/>
<path d="M1050.2,1985.7V1946.3" stroke="#F21010" stroke-width="3" fill="none"/>
<path d="M1050.2,1930L1067,1947.3H1033.4Z" fill="#F21010"/>
<path d="M736,1932.2 C620,1934 510,1975 478,2037" stroke="#EE14EE" stroke-width="5.3" fill="none"/>
<path d="M448.4,2029L508.3,2041.8L472.4,2065.2Z" fill="#EE14EE"/>
<path d="M1233.7,1940.9 C1350,1941 1455,1985 1491,2044" stroke="#EE14EE" stroke-width="5.3" fill="none"/>
<path d="M1461.1,2050.7L1521.4,2037.9L1498,2073.8Z" fill="#EE14EE"/>
<text x="401.04" y="2155" font-size="33.6" textLength="218.09" lengthAdjust="spacingAndGlyphs">Lipid synthesis</text>
<path d="M330.6,2269.9 C470,2160 700,2130 820,2250" stroke="#EE14EE" stroke-width="5.3" fill="none"/>
<path d="M794.1,2267.4L839.6,2232.1L835.4,2273.1Z" fill="#EE14EE"/>
<text x="124.4" y="2214.6" font-size="33.6" fill="#0B18E2" style="stroke:#0B18E2" textLength="121.45" lengthAdjust="spacingAndGlyphs">AML M3</text>
<text x="122.77" y="2254.6" font-size="33.6" fill="#0B18E2" style="stroke:#0B18E2" textLength="226.09" lengthAdjust="spacingAndGlyphs">highest content</text>
<text x="121.9" y="2302.7" font-size="33.6" textLength="121.79" lengthAdjust="spacingAndGlyphs">AML M2</text>
<text x="121.9" y="2342.7" font-size="33.6" textLength="121.12" lengthAdjust="spacingAndGlyphs">AML M4</text>
<text x="121.9" y="2382.7" font-size="33.6" textLength="121.45" lengthAdjust="spacingAndGlyphs">AML M5</text>
<rect x="254.4" y="2297" width="9.6" height="174.3" fill="#F7A040"/>
<circle cx="259.2" cy="2297.2" r="16" fill="#F7A040" stroke="#C07A28" stroke-width="0.6"/>
<rect x="291.9" y="2297" width="9.6" height="174.3" fill="#F7A040"/>
<circle cx="296.7" cy="2297.2" r="16" fill="#F7A040" stroke="#C07A28" stroke-width="0.6"/>
<rect x="329.7" y="2297" width="9.6" height="174.3" fill="#F7A040"/>
<circle cx="334.5" cy="2297.2" r="16" fill="#F7A040" stroke="#C07A28" stroke-width="0.6"/>
<rect x="367.2" y="2297" width="9.6" height="174.3" fill="#F7A040"/>
<circle cx="372" cy="2297.2" r="16" fill="#F7A040" stroke="#C07A28" stroke-width="0.6"/>
<text x="442.11" y="2271.3" font-size="33.6" textLength="102.44" lengthAdjust="spacingAndGlyphs">FADS1</text>
<text x="459.94" y="2312.9" font-size="33.6" textLength="68.57" lengthAdjust="spacingAndGlyphs">SCD</text>
<text x="426.95" y="2354.5" font-size="33.6" textLength="125.51" lengthAdjust="spacingAndGlyphs">SREBF1</text>
<path d="M567,2327.6V2253.9" stroke="#F21010" stroke-width="3" fill="none"/>
<path d="M567,2237.6L583.8,2254.9H550.2Z" fill="#F21010"/>
<text x="592.34" y="2271.3" font-size="33.6" textLength="125.7" lengthAdjust="spacingAndGlyphs">ELOVL5</text>
<text x="592.34" y="2314.5" font-size="33.6" textLength="125.7" lengthAdjust="spacingAndGlyphs">ELOVL6</text>
<path d="M741.9,2326V2255.5" stroke="#F21010" stroke-width="3" fill="none"/>
<path d="M741.9,2239.2L758.7,2256.5H725.1Z" fill="#F21010"/>
<path d="M811.3,2303.2L856.1,2392.2L814.5,2466.5" stroke="#F7A040" stroke-width="9.6" fill="none" stroke-linejoin="miter" stroke-miterlimit="10"/>
<path d="M843.9,2303.2L888.7,2392.2L847.1,2466.5" stroke="#F7A040" stroke-width="9.6" fill="none" stroke-linejoin="miter" stroke-miterlimit="10"/>
<path d="M876.7,2303.2L921.5,2392.2L879.9,2466.5" stroke="#F7A040" stroke-width="9.6" fill="none" stroke-linejoin="miter" stroke-miterlimit="10"/>
<path d="M911.1,2303.2L955.9,2392.2L914.3,2466.5" stroke="#F7A040" stroke-width="9.6" fill="none" stroke-linejoin="miter" stroke-miterlimit="10"/>
<circle cx="811.3" cy="2303.2" r="15.7" fill="#F7A040" stroke="#C07A28" stroke-width="0.6"/>
<circle cx="843.9" cy="2303.2" r="15.7" fill="#F7A040" stroke="#C07A28" stroke-width="0.6"/>
<circle cx="876.7" cy="2303.2" r="15.7" fill="#F7A040" stroke="#C07A28" stroke-width="0.6"/>
<circle cx="911.1" cy="2303.2" r="15.7" fill="#F7A040" stroke="#C07A28" stroke-width="0.6"/>
<text x="912.5" y="2223.2" font-size="33.6" fill="#0B18E2" style="stroke:#0B18E2" textLength="121.15" lengthAdjust="spacingAndGlyphs">AML M5</text>
<text x="911.17" y="2263.3" font-size="33.6" fill="#0B18E2" style="stroke:#0B18E2" textLength="225.79" lengthAdjust="spacingAndGlyphs">highest content</text>
<text x="991.6" y="2311.3" font-size="33.6" textLength="121.79" lengthAdjust="spacingAndGlyphs">AML M2</text>
<text x="991.6" y="2351.3" font-size="33.6" textLength="121.45" lengthAdjust="spacingAndGlyphs">AML M3</text>
<text x="991.6" y="2391.4" font-size="33.6" textLength="121.12" lengthAdjust="spacingAndGlyphs">AML M4</text>
<text x="197.58" y="2531.4" font-size="35" font-weight="bold" textLength="259.16" lengthAdjust="spacingAndGlyphs">Saturated lipid</text>
<path d="M479.6,2543.5V2505" stroke="#F21010" stroke-width="3" fill="none"/>
<path d="M479.6,2488.7L496.4,2506H462.8Z" fill="#F21010"/>
<text x="759.05" y="2535.2" font-size="35" font-weight="bold" textLength="306.49" lengthAdjust="spacingAndGlyphs">Unsaturated lipid</text>
<path d="M1083.8,2543.5V2505" stroke="#F21010" stroke-width="3" fill="none"/>
<path d="M1083.8,2488.7L1100.6,2506H1067Z" fill="#F21010"/>
<path d="M911.5,2553.1 C780,2650 510,2720 399.5,2574.6" stroke="#EE14EE" stroke-width="5.3" fill="none"/>
<path d="M380.3,2553.1L421,2557.6L375.8,2593.8Z" fill="#EE14EE"/>
<text x="534.66" y="2624.9" font-size="33.6" textLength="124.56" lengthAdjust="spacingAndGlyphs">ELOVL3</text>
<path d="M679.6,2630.6V2592.5" stroke="#F21010" stroke-width="3" fill="none"/>
<path d="M679.6,2576.2L696.4,2593.5H662.8Z" fill="#F21010"/>
<text x="357.42" y="2717.1" font-size="33.6" textLength="140.85" lengthAdjust="spacingAndGlyphs">SLC27A2</text>
<path d="M517,2726.7V2688.5" stroke="#F21010" stroke-width="3" fill="none"/>
<path d="M517,2672.2L533.8,2689.5H500.2Z" fill="#F21010"/>
<text x="554.52" y="2717.1" font-size="33.6" textLength="140.52" lengthAdjust="spacingAndGlyphs">SLC27A3</text>
<path d="M717.1,2726.7V2688.5" stroke="#F21010" stroke-width="3" fill="none"/>
<path d="M717.1,2672.2L733.9,2689.5H700.3Z" fill="#F21010"/>
<text x="771.43" y="2713" font-size="33.6" textLength="255.99" lengthAdjust="spacingAndGlyphs">Lipid transportion</text>
<text x="1486.14" y="2160.1" font-size="33.6" textLength="84.74" lengthAdjust="spacingAndGlyphs">CD36</text>
<text x="1485.81" y="2200.8" font-size="33.6" textLength="119.86" lengthAdjust="spacingAndGlyphs">INPP5D</text>
<text x="1486.19" y="2240.2" font-size="33.6" textLength="85.75" lengthAdjust="spacingAndGlyphs">GPX1</text>
<text x="1486.47" y="2280.9" font-size="27" textLength="54.33" lengthAdjust="spacingAndGlyphs">......</text>
<path d="M1642.2,2238.5V2168.4" stroke="#F21010" stroke-width="3" fill="none"/>
<path d="M1642.2,2152.1L1659,2169.4H1625.4Z" fill="#F21010"/>
<rect x="1286" y="2297.8" width="495.8" height="220" fill="#F5D9C9"/>
<text x="1311.11" y="2339.5" font-size="32" textLength="416.51" lengthAdjust="spacingAndGlyphs">Lipid synthesis and decomposition</text>
<text x="1312.07" y="2379.5" font-size="32" textLength="312.46" lengthAdjust="spacingAndGlyphs">Signal pathway regulation</text>
<text x="1310.83" y="2419.6" font-size="32" textLength="443.06" lengthAdjust="spacingAndGlyphs">Inflammation and immune regulation</text>
<text x="1311.12" y="2459.6" font-size="32" textLength="245.83" lengthAdjust="spacingAndGlyphs">Membrane transport</text>
<text x="1312.21" y="2498.7" font-size="32" textLength="190.42" lengthAdjust="spacingAndGlyphs">and lipid uptake</text>
</g>
</svg>
</body></html>
